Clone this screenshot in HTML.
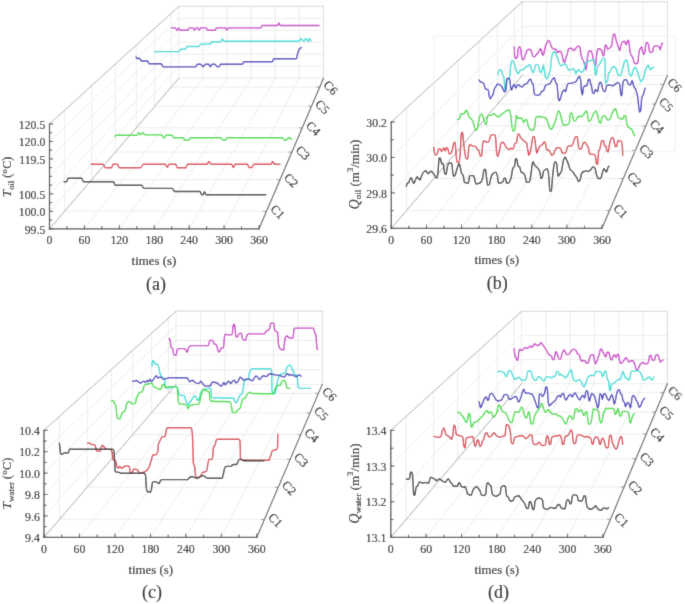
<!DOCTYPE html>
<html><head><meta charset="utf-8"><style>
html,body{margin:0;padding:0;background:#fff;}
svg{display:block;}
text{font-family:"Liberation Serif",serif;fill:#0a0a0a;stroke:#0a0a0a;stroke-width:0.12px;}
</style></head><body>
<svg width="685" height="604" viewBox="0 0 685 604">
<defs><filter id="bl" x="0" y="0" width="685" height="604" filterUnits="userSpaceOnUse"><feConvolveMatrix order="3" kernelMatrix="1 6 1 6 36 6 1 6 1" edgeMode="duplicate" preserveAlpha="true"/></filter></defs>
<rect width="685" height="604" fill="#fff"/>
<g filter="url(#bl)">
<rect width="685" height="604" fill="#fff"/>
<g stroke-linecap="square">
<line x1="178.9" y1="78.2" x2="178.9" y2="6.3" stroke="#e9e9e9" stroke-width="0.8"/>
<line x1="203" y1="78.2" x2="203" y2="6.3" stroke="#e9e9e9" stroke-width="0.8"/>
<line x1="227.1" y1="78.2" x2="227.1" y2="6.3" stroke="#e9e9e9" stroke-width="0.8"/>
<line x1="251.2" y1="78.2" x2="251.2" y2="6.3" stroke="#e9e9e9" stroke-width="0.8"/>
<line x1="275.3" y1="78.2" x2="275.3" y2="6.3" stroke="#e9e9e9" stroke-width="0.8"/>
<line x1="299.4" y1="78.2" x2="299.4" y2="6.3" stroke="#e9e9e9" stroke-width="0.8"/>
<line x1="323.5" y1="78.2" x2="323.5" y2="6.3" stroke="#e9e9e9" stroke-width="0.8"/>
<line x1="178.9" y1="78.2" x2="323.5" y2="78.2" stroke="#e9e9e9" stroke-width="0.8"/>
<line x1="178.9" y1="66.22" x2="323.5" y2="66.22" stroke="#e9e9e9" stroke-width="0.8"/>
<line x1="178.9" y1="54.23" x2="323.5" y2="54.23" stroke="#e9e9e9" stroke-width="0.8"/>
<line x1="178.9" y1="42.25" x2="323.5" y2="42.25" stroke="#e9e9e9" stroke-width="0.8"/>
<line x1="178.9" y1="30.27" x2="323.5" y2="30.27" stroke="#e9e9e9" stroke-width="0.8"/>
<line x1="178.9" y1="18.28" x2="323.5" y2="18.28" stroke="#e9e9e9" stroke-width="0.8"/>
<line x1="178.9" y1="6.3" x2="323.5" y2="6.3" stroke="#e9e9e9" stroke-width="0.8"/>
<line x1="49.5" y1="228.8" x2="178.9" y2="78.2" stroke="#e9e9e9" stroke-width="0.8"/>
<line x1="49.5" y1="211.33" x2="178.9" y2="66.22" stroke="#e9e9e9" stroke-width="0.8"/>
<line x1="49.5" y1="193.87" x2="178.9" y2="54.23" stroke="#e9e9e9" stroke-width="0.8"/>
<line x1="49.5" y1="176.4" x2="178.9" y2="42.25" stroke="#e9e9e9" stroke-width="0.8"/>
<line x1="49.5" y1="158.93" x2="178.9" y2="30.27" stroke="#e9e9e9" stroke-width="0.8"/>
<line x1="49.5" y1="141.47" x2="178.9" y2="18.28" stroke="#e9e9e9" stroke-width="0.8"/>
<line x1="49.5" y1="124" x2="178.9" y2="6.3" stroke="#e9e9e9" stroke-width="0.8"/>
<line x1="64.6" y1="211.23" x2="64.6" y2="110.27" stroke="#e9e9e9" stroke-width="0.8"/>
<line x1="91.73" y1="179.66" x2="91.73" y2="85.59" stroke="#e9e9e9" stroke-width="0.8"/>
<line x1="115.41" y1="152.1" x2="115.41" y2="64.05" stroke="#e9e9e9" stroke-width="0.8"/>
<line x1="136.26" y1="127.83" x2="136.26" y2="45.09" stroke="#e9e9e9" stroke-width="0.8"/>
<line x1="154.76" y1="106.3" x2="154.76" y2="28.26" stroke="#e9e9e9" stroke-width="0.8"/>
<line x1="171.28" y1="87.07" x2="171.28" y2="13.23" stroke="#e9e9e9" stroke-width="0.8"/>
<line x1="49.5" y1="228.8" x2="178.9" y2="78.2" stroke="#e9e9e9" stroke-width="0.8"/>
<line x1="84.42" y1="228.8" x2="203" y2="78.2" stroke="#e9e9e9" stroke-width="0.8"/>
<line x1="119.33" y1="228.8" x2="227.1" y2="78.2" stroke="#e9e9e9" stroke-width="0.8"/>
<line x1="154.25" y1="228.8" x2="251.2" y2="78.2" stroke="#e9e9e9" stroke-width="0.8"/>
<line x1="189.17" y1="228.8" x2="275.3" y2="78.2" stroke="#e9e9e9" stroke-width="0.8"/>
<line x1="224.08" y1="228.8" x2="299.4" y2="78.2" stroke="#e9e9e9" stroke-width="0.8"/>
<line x1="259" y1="228.8" x2="323.5" y2="78.2" stroke="#e9e9e9" stroke-width="0.8"/>
<line x1="64.6" y1="211.23" x2="266.53" y2="211.23" stroke="#e9e9e9" stroke-width="0.8"/>
<line x1="91.73" y1="179.66" x2="280.05" y2="179.66" stroke="#e9e9e9" stroke-width="0.8"/>
<line x1="115.41" y1="152.1" x2="291.85" y2="152.1" stroke="#e9e9e9" stroke-width="0.8"/>
<line x1="136.26" y1="127.83" x2="302.24" y2="127.83" stroke="#e9e9e9" stroke-width="0.8"/>
<line x1="154.76" y1="106.3" x2="311.47" y2="106.3" stroke="#e9e9e9" stroke-width="0.8"/>
<line x1="171.28" y1="87.07" x2="319.7" y2="87.07" stroke="#e9e9e9" stroke-width="0.8"/>
<line x1="178.9" y1="6.3" x2="323.5" y2="6.3" stroke="#dcdcdc" stroke-width="0.9"/>
<line x1="323.5" y1="6.3" x2="323.5" y2="78.2" stroke="#dcdcdc" stroke-width="0.9"/>
<line x1="49.5" y1="124" x2="178.9" y2="6.3" stroke="#acacac" stroke-width="0.9"/>
<line x1="49.5" y1="228.8" x2="178.9" y2="78.2" stroke="#acacac" stroke-width="0.9"/>
<line x1="49.5" y1="228.8" x2="49.5" y2="124" stroke="#4a4a4a" stroke-width="1.3"/>
<line x1="49.5" y1="228.8" x2="259" y2="228.8" stroke="#4a4a4a" stroke-width="1.3"/>
<line x1="259" y1="228.8" x2="323.5" y2="78.2" stroke="#5c5c5c" stroke-width="1.1"/>
<line x1="49.5" y1="228.8" x2="52.7" y2="228.8" stroke="#4a4a4a" stroke-width="1"/>
<line x1="49.5" y1="211.33" x2="52.7" y2="211.33" stroke="#4a4a4a" stroke-width="1"/>
<line x1="49.5" y1="193.87" x2="52.7" y2="193.87" stroke="#4a4a4a" stroke-width="1"/>
<line x1="49.5" y1="158.93" x2="52.7" y2="158.93" stroke="#4a4a4a" stroke-width="1"/>
<line x1="49.5" y1="141.47" x2="52.7" y2="141.47" stroke="#4a4a4a" stroke-width="1"/>
<line x1="49.5" y1="124" x2="52.7" y2="124" stroke="#4a4a4a" stroke-width="1"/>
<line x1="49.5" y1="220.07" x2="51.7" y2="220.07" stroke="#4a4a4a" stroke-width="1"/>
<line x1="49.5" y1="202.6" x2="51.7" y2="202.6" stroke="#4a4a4a" stroke-width="1"/>
<line x1="49.5" y1="185.13" x2="51.7" y2="185.13" stroke="#4a4a4a" stroke-width="1"/>
<line x1="49.5" y1="176.4" x2="51.7" y2="176.4" stroke="#4a4a4a" stroke-width="1"/>
<line x1="49.5" y1="167.67" x2="51.7" y2="167.67" stroke="#4a4a4a" stroke-width="1"/>
<line x1="49.5" y1="150.2" x2="51.7" y2="150.2" stroke="#4a4a4a" stroke-width="1"/>
<line x1="49.5" y1="132.73" x2="51.7" y2="132.73" stroke="#4a4a4a" stroke-width="1"/>
<line x1="49.5" y1="228.8" x2="49.5" y2="225.6" stroke="#4a4a4a" stroke-width="1"/>
<line x1="66.96" y1="228.8" x2="66.96" y2="226.6" stroke="#4a4a4a" stroke-width="1"/>
<line x1="84.42" y1="228.8" x2="84.42" y2="225.6" stroke="#4a4a4a" stroke-width="1"/>
<line x1="101.88" y1="228.8" x2="101.88" y2="226.6" stroke="#4a4a4a" stroke-width="1"/>
<line x1="119.33" y1="228.8" x2="119.33" y2="225.6" stroke="#4a4a4a" stroke-width="1"/>
<line x1="136.79" y1="228.8" x2="136.79" y2="226.6" stroke="#4a4a4a" stroke-width="1"/>
<line x1="154.25" y1="228.8" x2="154.25" y2="225.6" stroke="#4a4a4a" stroke-width="1"/>
<line x1="171.71" y1="228.8" x2="171.71" y2="226.6" stroke="#4a4a4a" stroke-width="1"/>
<line x1="189.17" y1="228.8" x2="189.17" y2="225.6" stroke="#4a4a4a" stroke-width="1"/>
<line x1="206.62" y1="228.8" x2="206.62" y2="226.6" stroke="#4a4a4a" stroke-width="1"/>
<line x1="224.08" y1="228.8" x2="224.08" y2="225.6" stroke="#4a4a4a" stroke-width="1"/>
<line x1="241.54" y1="228.8" x2="241.54" y2="226.6" stroke="#4a4a4a" stroke-width="1"/>
<line x1="259" y1="228.8" x2="259" y2="225.6" stroke="#4a4a4a" stroke-width="1"/>
<line x1="266.53" y1="211.23" x2="263.73" y2="211.23" stroke="#8a8a8a" stroke-width="0.9"/>
<line x1="280.05" y1="179.66" x2="277.25" y2="179.66" stroke="#8a8a8a" stroke-width="0.9"/>
<line x1="291.85" y1="152.1" x2="289.05" y2="152.1" stroke="#8a8a8a" stroke-width="0.9"/>
<line x1="302.24" y1="127.83" x2="299.44" y2="127.83" stroke="#8a8a8a" stroke-width="0.9"/>
<line x1="311.47" y1="106.3" x2="308.67" y2="106.3" stroke="#8a8a8a" stroke-width="0.9"/>
<line x1="319.7" y1="87.07" x2="316.9" y2="87.07" stroke="#8a8a8a" stroke-width="0.9"/>
<line x1="522.2" y1="75.4" x2="522.2" y2="1.75" stroke="#e9e9e9" stroke-width="0.8"/>
<line x1="546.42" y1="75.4" x2="546.42" y2="1.75" stroke="#e9e9e9" stroke-width="0.8"/>
<line x1="570.63" y1="75.4" x2="570.63" y2="1.75" stroke="#e9e9e9" stroke-width="0.8"/>
<line x1="594.85" y1="75.4" x2="594.85" y2="1.75" stroke="#e9e9e9" stroke-width="0.8"/>
<line x1="619.07" y1="75.4" x2="619.07" y2="1.75" stroke="#e9e9e9" stroke-width="0.8"/>
<line x1="643.28" y1="75.4" x2="643.28" y2="1.75" stroke="#e9e9e9" stroke-width="0.8"/>
<line x1="667.5" y1="75.4" x2="667.5" y2="1.75" stroke="#e9e9e9" stroke-width="0.8"/>
<line x1="522.2" y1="75.4" x2="667.5" y2="75.4" stroke="#e9e9e9" stroke-width="0.8"/>
<line x1="522.2" y1="50.85" x2="667.5" y2="50.85" stroke="#e9e9e9" stroke-width="0.8"/>
<line x1="522.2" y1="26.3" x2="667.5" y2="26.3" stroke="#e9e9e9" stroke-width="0.8"/>
<line x1="522.2" y1="1.75" x2="667.5" y2="1.75" stroke="#e9e9e9" stroke-width="0.8"/>
<line x1="391.3" y1="228.3" x2="522.2" y2="75.4" stroke="#e9e9e9" stroke-width="0.8"/>
<line x1="391.3" y1="192.87" x2="522.2" y2="50.85" stroke="#e9e9e9" stroke-width="0.8"/>
<line x1="391.3" y1="157.43" x2="522.2" y2="26.3" stroke="#e9e9e9" stroke-width="0.8"/>
<line x1="391.3" y1="122" x2="522.2" y2="1.75" stroke="#e9e9e9" stroke-width="0.8"/>
<line x1="406.51" y1="210.53" x2="406.51" y2="108.02" stroke="#e9e9e9" stroke-width="0.8"/>
<line x1="433.89" y1="178.56" x2="433.89" y2="82.88" stroke="#e9e9e9" stroke-width="0.8"/>
<line x1="457.82" y1="150.6" x2="457.82" y2="60.89" stroke="#e9e9e9" stroke-width="0.8"/>
<line x1="478.93" y1="125.94" x2="478.93" y2="41.5" stroke="#e9e9e9" stroke-width="0.8"/>
<line x1="497.69" y1="104.03" x2="497.69" y2="24.27" stroke="#e9e9e9" stroke-width="0.8"/>
<line x1="514.46" y1="84.44" x2="514.46" y2="8.86" stroke="#e9e9e9" stroke-width="0.8"/>
<line x1="391.3" y1="228.3" x2="522.2" y2="75.4" stroke="#e9e9e9" stroke-width="0.8"/>
<line x1="426.42" y1="228.3" x2="546.42" y2="75.4" stroke="#e9e9e9" stroke-width="0.8"/>
<line x1="461.53" y1="228.3" x2="570.63" y2="75.4" stroke="#e9e9e9" stroke-width="0.8"/>
<line x1="496.65" y1="228.3" x2="594.85" y2="75.4" stroke="#e9e9e9" stroke-width="0.8"/>
<line x1="531.77" y1="228.3" x2="619.07" y2="75.4" stroke="#e9e9e9" stroke-width="0.8"/>
<line x1="566.88" y1="228.3" x2="643.28" y2="75.4" stroke="#e9e9e9" stroke-width="0.8"/>
<line x1="602" y1="228.3" x2="667.5" y2="75.4" stroke="#e9e9e9" stroke-width="0.8"/>
<line x1="406.51" y1="210.53" x2="609.61" y2="210.53" stroke="#e9e9e9" stroke-width="0.8"/>
<line x1="433.89" y1="178.56" x2="623.31" y2="178.56" stroke="#e9e9e9" stroke-width="0.8"/>
<line x1="457.82" y1="150.6" x2="635.29" y2="150.6" stroke="#e9e9e9" stroke-width="0.8"/>
<line x1="478.93" y1="125.94" x2="645.85" y2="125.94" stroke="#e9e9e9" stroke-width="0.8"/>
<line x1="497.69" y1="104.03" x2="655.23" y2="104.03" stroke="#e9e9e9" stroke-width="0.8"/>
<line x1="514.46" y1="84.44" x2="663.63" y2="84.44" stroke="#e9e9e9" stroke-width="0.8"/>
<line x1="522.2" y1="1.75" x2="667.5" y2="1.75" stroke="#dcdcdc" stroke-width="0.9"/>
<line x1="667.5" y1="1.75" x2="667.5" y2="75.4" stroke="#dcdcdc" stroke-width="0.9"/>
<line x1="391.3" y1="122" x2="522.2" y2="1.75" stroke="#acacac" stroke-width="0.9"/>
<line x1="391.3" y1="228.3" x2="522.2" y2="75.4" stroke="#acacac" stroke-width="0.9"/>
<line x1="391.3" y1="228.3" x2="391.3" y2="122" stroke="#4a4a4a" stroke-width="1.3"/>
<line x1="391.3" y1="228.3" x2="602" y2="228.3" stroke="#4a4a4a" stroke-width="1.3"/>
<line x1="602" y1="228.3" x2="667.5" y2="75.4" stroke="#5c5c5c" stroke-width="1.1"/>
<line x1="391.3" y1="228.3" x2="394.5" y2="228.3" stroke="#4a4a4a" stroke-width="1"/>
<line x1="391.3" y1="192.87" x2="394.5" y2="192.87" stroke="#4a4a4a" stroke-width="1"/>
<line x1="391.3" y1="157.43" x2="394.5" y2="157.43" stroke="#4a4a4a" stroke-width="1"/>
<line x1="391.3" y1="122" x2="394.5" y2="122" stroke="#4a4a4a" stroke-width="1"/>
<line x1="391.3" y1="210.58" x2="393.5" y2="210.58" stroke="#4a4a4a" stroke-width="1"/>
<line x1="391.3" y1="175.15" x2="393.5" y2="175.15" stroke="#4a4a4a" stroke-width="1"/>
<line x1="391.3" y1="139.72" x2="393.5" y2="139.72" stroke="#4a4a4a" stroke-width="1"/>
<line x1="391.3" y1="228.3" x2="391.3" y2="225.1" stroke="#4a4a4a" stroke-width="1"/>
<line x1="408.86" y1="228.3" x2="408.86" y2="226.1" stroke="#4a4a4a" stroke-width="1"/>
<line x1="426.42" y1="228.3" x2="426.42" y2="225.1" stroke="#4a4a4a" stroke-width="1"/>
<line x1="443.98" y1="228.3" x2="443.98" y2="226.1" stroke="#4a4a4a" stroke-width="1"/>
<line x1="461.53" y1="228.3" x2="461.53" y2="225.1" stroke="#4a4a4a" stroke-width="1"/>
<line x1="479.09" y1="228.3" x2="479.09" y2="226.1" stroke="#4a4a4a" stroke-width="1"/>
<line x1="496.65" y1="228.3" x2="496.65" y2="225.1" stroke="#4a4a4a" stroke-width="1"/>
<line x1="514.21" y1="228.3" x2="514.21" y2="226.1" stroke="#4a4a4a" stroke-width="1"/>
<line x1="531.77" y1="228.3" x2="531.77" y2="225.1" stroke="#4a4a4a" stroke-width="1"/>
<line x1="549.33" y1="228.3" x2="549.33" y2="226.1" stroke="#4a4a4a" stroke-width="1"/>
<line x1="566.88" y1="228.3" x2="566.88" y2="225.1" stroke="#4a4a4a" stroke-width="1"/>
<line x1="584.44" y1="228.3" x2="584.44" y2="226.1" stroke="#4a4a4a" stroke-width="1"/>
<line x1="602" y1="228.3" x2="602" y2="225.1" stroke="#4a4a4a" stroke-width="1"/>
<line x1="609.61" y1="210.53" x2="606.81" y2="210.53" stroke="#8a8a8a" stroke-width="0.9"/>
<line x1="623.31" y1="178.56" x2="620.51" y2="178.56" stroke="#8a8a8a" stroke-width="0.9"/>
<line x1="635.29" y1="150.6" x2="632.49" y2="150.6" stroke="#8a8a8a" stroke-width="0.9"/>
<line x1="645.85" y1="125.94" x2="643.05" y2="125.94" stroke="#8a8a8a" stroke-width="0.9"/>
<line x1="655.23" y1="104.03" x2="652.43" y2="104.03" stroke="#8a8a8a" stroke-width="0.9"/>
<line x1="663.63" y1="84.44" x2="660.83" y2="84.44" stroke="#8a8a8a" stroke-width="0.9"/>
<polyline points="433.9,178 433.9,36.1 675.3,36.1 675.3,151.6 612,151.6" fill="none" stroke="#ececec" stroke-width="0.8"/>
<line x1="176.1" y1="384.4" x2="176.1" y2="311.2" stroke="#e9e9e9" stroke-width="0.8"/>
<line x1="200.47" y1="384.4" x2="200.47" y2="311.2" stroke="#e9e9e9" stroke-width="0.8"/>
<line x1="224.83" y1="384.4" x2="224.83" y2="311.2" stroke="#e9e9e9" stroke-width="0.8"/>
<line x1="249.2" y1="384.4" x2="249.2" y2="311.2" stroke="#e9e9e9" stroke-width="0.8"/>
<line x1="273.57" y1="384.4" x2="273.57" y2="311.2" stroke="#e9e9e9" stroke-width="0.8"/>
<line x1="297.93" y1="384.4" x2="297.93" y2="311.2" stroke="#e9e9e9" stroke-width="0.8"/>
<line x1="322.3" y1="384.4" x2="322.3" y2="311.2" stroke="#e9e9e9" stroke-width="0.8"/>
<line x1="176.1" y1="384.4" x2="322.3" y2="384.4" stroke="#e9e9e9" stroke-width="0.8"/>
<line x1="176.1" y1="369.76" x2="322.3" y2="369.76" stroke="#e9e9e9" stroke-width="0.8"/>
<line x1="176.1" y1="355.12" x2="322.3" y2="355.12" stroke="#e9e9e9" stroke-width="0.8"/>
<line x1="176.1" y1="340.48" x2="322.3" y2="340.48" stroke="#e9e9e9" stroke-width="0.8"/>
<line x1="176.1" y1="325.84" x2="322.3" y2="325.84" stroke="#e9e9e9" stroke-width="0.8"/>
<line x1="176.1" y1="311.2" x2="322.3" y2="311.2" stroke="#e9e9e9" stroke-width="0.8"/>
<line x1="44" y1="537.3" x2="176.1" y2="384.4" stroke="#e9e9e9" stroke-width="0.8"/>
<line x1="44" y1="515.9" x2="176.1" y2="369.76" stroke="#e9e9e9" stroke-width="0.8"/>
<line x1="44" y1="494.5" x2="176.1" y2="355.12" stroke="#e9e9e9" stroke-width="0.8"/>
<line x1="44" y1="473.1" x2="176.1" y2="340.48" stroke="#e9e9e9" stroke-width="0.8"/>
<line x1="44" y1="451.7" x2="176.1" y2="325.84" stroke="#e9e9e9" stroke-width="0.8"/>
<line x1="44" y1="430.3" x2="176.1" y2="311.2" stroke="#e9e9e9" stroke-width="0.8"/>
<line x1="59.47" y1="519.4" x2="59.47" y2="416.36" stroke="#e9e9e9" stroke-width="0.8"/>
<line x1="87.22" y1="487.28" x2="87.22" y2="391.34" stroke="#e9e9e9" stroke-width="0.8"/>
<line x1="111.4" y1="459.28" x2="111.4" y2="369.53" stroke="#e9e9e9" stroke-width="0.8"/>
<line x1="132.68" y1="434.66" x2="132.68" y2="350.35" stroke="#e9e9e9" stroke-width="0.8"/>
<line x1="151.53" y1="412.84" x2="151.53" y2="333.35" stroke="#e9e9e9" stroke-width="0.8"/>
<line x1="168.35" y1="393.37" x2="168.35" y2="318.19" stroke="#e9e9e9" stroke-width="0.8"/>
<line x1="44" y1="537.3" x2="176.1" y2="384.4" stroke="#e9e9e9" stroke-width="0.8"/>
<line x1="79.47" y1="537.3" x2="200.47" y2="384.4" stroke="#e9e9e9" stroke-width="0.8"/>
<line x1="114.93" y1="537.3" x2="224.83" y2="384.4" stroke="#e9e9e9" stroke-width="0.8"/>
<line x1="150.4" y1="537.3" x2="249.2" y2="384.4" stroke="#e9e9e9" stroke-width="0.8"/>
<line x1="185.87" y1="537.3" x2="273.57" y2="384.4" stroke="#e9e9e9" stroke-width="0.8"/>
<line x1="221.33" y1="537.3" x2="297.93" y2="384.4" stroke="#e9e9e9" stroke-width="0.8"/>
<line x1="256.8" y1="537.3" x2="322.3" y2="384.4" stroke="#e9e9e9" stroke-width="0.8"/>
<line x1="59.47" y1="519.4" x2="264.47" y2="519.4" stroke="#e9e9e9" stroke-width="0.8"/>
<line x1="87.22" y1="487.28" x2="278.23" y2="487.28" stroke="#e9e9e9" stroke-width="0.8"/>
<line x1="111.4" y1="459.28" x2="290.22" y2="459.28" stroke="#e9e9e9" stroke-width="0.8"/>
<line x1="132.68" y1="434.66" x2="300.77" y2="434.66" stroke="#e9e9e9" stroke-width="0.8"/>
<line x1="151.53" y1="412.84" x2="310.12" y2="412.84" stroke="#e9e9e9" stroke-width="0.8"/>
<line x1="168.35" y1="393.37" x2="318.46" y2="393.37" stroke="#e9e9e9" stroke-width="0.8"/>
<line x1="176.1" y1="311.2" x2="322.3" y2="311.2" stroke="#dcdcdc" stroke-width="0.9"/>
<line x1="322.3" y1="311.2" x2="322.3" y2="384.4" stroke="#dcdcdc" stroke-width="0.9"/>
<line x1="44" y1="430.3" x2="176.1" y2="311.2" stroke="#acacac" stroke-width="0.9"/>
<line x1="44" y1="537.3" x2="176.1" y2="384.4" stroke="#acacac" stroke-width="0.9"/>
<line x1="44" y1="537.3" x2="44" y2="430.3" stroke="#4a4a4a" stroke-width="1.3"/>
<line x1="44" y1="537.3" x2="256.8" y2="537.3" stroke="#4a4a4a" stroke-width="1.3"/>
<line x1="256.8" y1="537.3" x2="322.3" y2="384.4" stroke="#5c5c5c" stroke-width="1.1"/>
<line x1="44" y1="537.3" x2="47.2" y2="537.3" stroke="#4a4a4a" stroke-width="1"/>
<line x1="44" y1="515.9" x2="47.2" y2="515.9" stroke="#4a4a4a" stroke-width="1"/>
<line x1="44" y1="494.5" x2="47.2" y2="494.5" stroke="#4a4a4a" stroke-width="1"/>
<line x1="44" y1="473.1" x2="47.2" y2="473.1" stroke="#4a4a4a" stroke-width="1"/>
<line x1="44" y1="451.7" x2="47.2" y2="451.7" stroke="#4a4a4a" stroke-width="1"/>
<line x1="44" y1="430.3" x2="47.2" y2="430.3" stroke="#4a4a4a" stroke-width="1"/>
<line x1="44" y1="526.6" x2="46.2" y2="526.6" stroke="#4a4a4a" stroke-width="1"/>
<line x1="44" y1="505.2" x2="46.2" y2="505.2" stroke="#4a4a4a" stroke-width="1"/>
<line x1="44" y1="483.8" x2="46.2" y2="483.8" stroke="#4a4a4a" stroke-width="1"/>
<line x1="44" y1="462.4" x2="46.2" y2="462.4" stroke="#4a4a4a" stroke-width="1"/>
<line x1="44" y1="441" x2="46.2" y2="441" stroke="#4a4a4a" stroke-width="1"/>
<line x1="44" y1="537.3" x2="44" y2="534.1" stroke="#4a4a4a" stroke-width="1"/>
<line x1="61.73" y1="537.3" x2="61.73" y2="535.1" stroke="#4a4a4a" stroke-width="1"/>
<line x1="79.47" y1="537.3" x2="79.47" y2="534.1" stroke="#4a4a4a" stroke-width="1"/>
<line x1="97.2" y1="537.3" x2="97.2" y2="535.1" stroke="#4a4a4a" stroke-width="1"/>
<line x1="114.93" y1="537.3" x2="114.93" y2="534.1" stroke="#4a4a4a" stroke-width="1"/>
<line x1="132.67" y1="537.3" x2="132.67" y2="535.1" stroke="#4a4a4a" stroke-width="1"/>
<line x1="150.4" y1="537.3" x2="150.4" y2="534.1" stroke="#4a4a4a" stroke-width="1"/>
<line x1="168.13" y1="537.3" x2="168.13" y2="535.1" stroke="#4a4a4a" stroke-width="1"/>
<line x1="185.87" y1="537.3" x2="185.87" y2="534.1" stroke="#4a4a4a" stroke-width="1"/>
<line x1="203.6" y1="537.3" x2="203.6" y2="535.1" stroke="#4a4a4a" stroke-width="1"/>
<line x1="221.33" y1="537.3" x2="221.33" y2="534.1" stroke="#4a4a4a" stroke-width="1"/>
<line x1="239.07" y1="537.3" x2="239.07" y2="535.1" stroke="#4a4a4a" stroke-width="1"/>
<line x1="256.8" y1="537.3" x2="256.8" y2="534.1" stroke="#4a4a4a" stroke-width="1"/>
<line x1="264.47" y1="519.4" x2="261.67" y2="519.4" stroke="#8a8a8a" stroke-width="0.9"/>
<line x1="278.23" y1="487.28" x2="275.43" y2="487.28" stroke="#8a8a8a" stroke-width="0.9"/>
<line x1="290.22" y1="459.28" x2="287.42" y2="459.28" stroke="#8a8a8a" stroke-width="0.9"/>
<line x1="300.77" y1="434.66" x2="297.97" y2="434.66" stroke="#8a8a8a" stroke-width="0.9"/>
<line x1="310.12" y1="412.84" x2="307.32" y2="412.84" stroke="#8a8a8a" stroke-width="0.9"/>
<line x1="318.46" y1="393.37" x2="315.66" y2="393.37" stroke="#8a8a8a" stroke-width="0.9"/>
<line x1="521.6" y1="383.7" x2="521.6" y2="311.3" stroke="#e9e9e9" stroke-width="0.8"/>
<line x1="545.9" y1="383.7" x2="545.9" y2="311.3" stroke="#e9e9e9" stroke-width="0.8"/>
<line x1="570.2" y1="383.7" x2="570.2" y2="311.3" stroke="#e9e9e9" stroke-width="0.8"/>
<line x1="594.5" y1="383.7" x2="594.5" y2="311.3" stroke="#e9e9e9" stroke-width="0.8"/>
<line x1="618.8" y1="383.7" x2="618.8" y2="311.3" stroke="#e9e9e9" stroke-width="0.8"/>
<line x1="643.1" y1="383.7" x2="643.1" y2="311.3" stroke="#e9e9e9" stroke-width="0.8"/>
<line x1="667.4" y1="383.7" x2="667.4" y2="311.3" stroke="#e9e9e9" stroke-width="0.8"/>
<line x1="521.6" y1="383.7" x2="667.4" y2="383.7" stroke="#e9e9e9" stroke-width="0.8"/>
<line x1="521.6" y1="359.57" x2="667.4" y2="359.57" stroke="#e9e9e9" stroke-width="0.8"/>
<line x1="521.6" y1="335.43" x2="667.4" y2="335.43" stroke="#e9e9e9" stroke-width="0.8"/>
<line x1="521.6" y1="311.3" x2="667.4" y2="311.3" stroke="#e9e9e9" stroke-width="0.8"/>
<line x1="390.8" y1="537.4" x2="521.6" y2="383.7" stroke="#e9e9e9" stroke-width="0.8"/>
<line x1="390.8" y1="501.73" x2="521.6" y2="359.57" stroke="#e9e9e9" stroke-width="0.8"/>
<line x1="390.8" y1="466.07" x2="521.6" y2="335.43" stroke="#e9e9e9" stroke-width="0.8"/>
<line x1="390.8" y1="430.4" x2="521.6" y2="311.3" stroke="#e9e9e9" stroke-width="0.8"/>
<line x1="406.18" y1="519.32" x2="406.18" y2="416.39" stroke="#e9e9e9" stroke-width="0.8"/>
<line x1="433.74" y1="486.94" x2="433.74" y2="391.3" stroke="#e9e9e9" stroke-width="0.8"/>
<line x1="457.71" y1="458.77" x2="457.71" y2="369.47" stroke="#e9e9e9" stroke-width="0.8"/>
<line x1="478.75" y1="434.05" x2="478.75" y2="350.31" stroke="#e9e9e9" stroke-width="0.8"/>
<line x1="497.37" y1="412.17" x2="497.37" y2="333.36" stroke="#e9e9e9" stroke-width="0.8"/>
<line x1="513.96" y1="392.67" x2="513.96" y2="318.25" stroke="#e9e9e9" stroke-width="0.8"/>
<line x1="390.8" y1="537.4" x2="521.6" y2="383.7" stroke="#e9e9e9" stroke-width="0.8"/>
<line x1="426.15" y1="537.4" x2="545.9" y2="383.7" stroke="#e9e9e9" stroke-width="0.8"/>
<line x1="461.5" y1="537.4" x2="570.2" y2="383.7" stroke="#e9e9e9" stroke-width="0.8"/>
<line x1="496.85" y1="537.4" x2="594.5" y2="383.7" stroke="#e9e9e9" stroke-width="0.8"/>
<line x1="532.2" y1="537.4" x2="618.8" y2="383.7" stroke="#e9e9e9" stroke-width="0.8"/>
<line x1="567.55" y1="537.4" x2="643.1" y2="383.7" stroke="#e9e9e9" stroke-width="0.8"/>
<line x1="602.9" y1="537.4" x2="667.4" y2="383.7" stroke="#e9e9e9" stroke-width="0.8"/>
<line x1="406.18" y1="519.32" x2="610.49" y2="519.32" stroke="#e9e9e9" stroke-width="0.8"/>
<line x1="433.74" y1="486.94" x2="624.07" y2="486.94" stroke="#e9e9e9" stroke-width="0.8"/>
<line x1="457.71" y1="458.77" x2="635.9" y2="458.77" stroke="#e9e9e9" stroke-width="0.8"/>
<line x1="478.75" y1="434.05" x2="646.27" y2="434.05" stroke="#e9e9e9" stroke-width="0.8"/>
<line x1="497.37" y1="412.17" x2="655.45" y2="412.17" stroke="#e9e9e9" stroke-width="0.8"/>
<line x1="513.96" y1="392.67" x2="663.63" y2="392.67" stroke="#e9e9e9" stroke-width="0.8"/>
<line x1="521.6" y1="311.3" x2="667.4" y2="311.3" stroke="#dcdcdc" stroke-width="0.9"/>
<line x1="667.4" y1="311.3" x2="667.4" y2="383.7" stroke="#dcdcdc" stroke-width="0.9"/>
<line x1="390.8" y1="430.4" x2="521.6" y2="311.3" stroke="#acacac" stroke-width="0.9"/>
<line x1="390.8" y1="537.4" x2="521.6" y2="383.7" stroke="#acacac" stroke-width="0.9"/>
<line x1="390.8" y1="537.4" x2="390.8" y2="430.4" stroke="#4a4a4a" stroke-width="1.3"/>
<line x1="390.8" y1="537.4" x2="602.9" y2="537.4" stroke="#4a4a4a" stroke-width="1.3"/>
<line x1="602.9" y1="537.4" x2="667.4" y2="383.7" stroke="#5c5c5c" stroke-width="1.1"/>
<line x1="390.8" y1="537.4" x2="394" y2="537.4" stroke="#4a4a4a" stroke-width="1"/>
<line x1="390.8" y1="501.73" x2="394" y2="501.73" stroke="#4a4a4a" stroke-width="1"/>
<line x1="390.8" y1="466.07" x2="394" y2="466.07" stroke="#4a4a4a" stroke-width="1"/>
<line x1="390.8" y1="430.4" x2="394" y2="430.4" stroke="#4a4a4a" stroke-width="1"/>
<line x1="390.8" y1="519.57" x2="393" y2="519.57" stroke="#4a4a4a" stroke-width="1"/>
<line x1="390.8" y1="483.9" x2="393" y2="483.9" stroke="#4a4a4a" stroke-width="1"/>
<line x1="390.8" y1="448.23" x2="393" y2="448.23" stroke="#4a4a4a" stroke-width="1"/>
<line x1="390.8" y1="537.4" x2="390.8" y2="534.2" stroke="#4a4a4a" stroke-width="1"/>
<line x1="408.48" y1="537.4" x2="408.48" y2="535.2" stroke="#4a4a4a" stroke-width="1"/>
<line x1="426.15" y1="537.4" x2="426.15" y2="534.2" stroke="#4a4a4a" stroke-width="1"/>
<line x1="443.82" y1="537.4" x2="443.82" y2="535.2" stroke="#4a4a4a" stroke-width="1"/>
<line x1="461.5" y1="537.4" x2="461.5" y2="534.2" stroke="#4a4a4a" stroke-width="1"/>
<line x1="479.18" y1="537.4" x2="479.18" y2="535.2" stroke="#4a4a4a" stroke-width="1"/>
<line x1="496.85" y1="537.4" x2="496.85" y2="534.2" stroke="#4a4a4a" stroke-width="1"/>
<line x1="514.52" y1="537.4" x2="514.52" y2="535.2" stroke="#4a4a4a" stroke-width="1"/>
<line x1="532.2" y1="537.4" x2="532.2" y2="534.2" stroke="#4a4a4a" stroke-width="1"/>
<line x1="549.88" y1="537.4" x2="549.88" y2="535.2" stroke="#4a4a4a" stroke-width="1"/>
<line x1="567.55" y1="537.4" x2="567.55" y2="534.2" stroke="#4a4a4a" stroke-width="1"/>
<line x1="585.22" y1="537.4" x2="585.22" y2="535.2" stroke="#4a4a4a" stroke-width="1"/>
<line x1="602.9" y1="537.4" x2="602.9" y2="534.2" stroke="#4a4a4a" stroke-width="1"/>
<line x1="610.49" y1="519.32" x2="607.69" y2="519.32" stroke="#8a8a8a" stroke-width="0.9"/>
<line x1="624.07" y1="486.94" x2="621.27" y2="486.94" stroke="#8a8a8a" stroke-width="0.9"/>
<line x1="635.9" y1="458.77" x2="633.1" y2="458.77" stroke="#8a8a8a" stroke-width="0.9"/>
<line x1="646.27" y1="434.05" x2="643.47" y2="434.05" stroke="#8a8a8a" stroke-width="0.9"/>
<line x1="655.45" y1="412.17" x2="652.65" y2="412.17" stroke="#8a8a8a" stroke-width="0.9"/>
<line x1="663.63" y1="392.67" x2="660.83" y2="392.67" stroke="#8a8a8a" stroke-width="0.9"/>
</g>
<g fill="none" stroke-width="1.4" stroke-linejoin="round" stroke-linecap="round">
<path d="M171.6 27.9C172.8 27.9 174 27.9 175.2 27.9C175.83 27.9 176.47 30.3 177.1 30.3C177.67 30.3 178.23 28.2 178.8 28.2C179.3 28.2 179.8 30.3 180.3 30.3C182.7 30.3 185.1 30.3 187.5 30.3C188.1 30.3 188.7 27.9 189.3 27.9C190.57 27.9 191.83 27.9 193.1 27.9C193.6 27.9 194.1 30.1 194.6 30.1C195.13 30.1 195.67 27.9 196.2 27.9C196.7 27.9 197.2 27.9 197.7 27.9C198.2 27.9 198.7 30.1 199.2 30.1C199.73 30.1 200.27 27.9 200.8 27.9C202.67 27.9 204.53 27.9 206.4 27.9C206.8 27.9 207.2 30.3 207.6 30.3C210.1 30.3 212.6 30.3 215.1 30.3C215.5 30.3 215.9 27.9 216.3 27.9C219.3 27.9 222.3 27.9 225.3 27.9C225.8 27.9 226.3 30 226.8 30C227.33 30 227.87 27.9 228.4 27.9C239.17 27.9 249.93 27.9 260.7 27.9C261.17 27.9 261.63 25.5 262.1 25.5C267.2 25.5 272.3 25.5 277.4 25.5C277.9 25.5 278.4 23 278.9 23C279.4 23 279.9 25.5 280.4 25.5C293.27 25.5 306.13 25.5 319 25.5" stroke="#c83cc8"/>
<path d="M154.4 51.6C162.6 51.6 170.8 51.6 179 51.6C179.53 51.6 180.07 49.2 180.6 49.2C182.2 49.2 183.8 49.2 185.4 49.2C185.93 49.2 186.47 46.5 187 46.5C191 46.5 195 46.5 199 46.5C199.57 46.5 200.13 44.1 200.7 44.1C203.9 44.1 207.1 44.1 210.3 44.1C210.83 44.1 211.37 41.7 211.9 41.7C214.83 41.7 217.77 41.7 220.7 41.7C221.23 41.7 221.77 39 222.3 39C222.87 39 223.43 41.2 224 41.2C249.1 41.2 274.2 41.2 299.3 41.2C299.8 41.2 300.3 38.4 300.8 38.4C301.77 38.4 302.73 41.2 303.7 41.2C304.43 41.2 305.17 38.4 305.9 38.4C306.63 38.4 307.37 41.2 308.1 41.2C308.6 41.2 309.1 38.4 309.6 38.4C310.07 38.4 310.53 40.27 311 41.2" stroke="#34dcd6"/>
<path d="M136.1 56.9C136.47 57.43 136.83 58.5 137.2 58.5C138.1 58.5 139 58.5 139.9 58.5C140.33 58.5 140.77 61 141.2 61C143.37 61 145.53 61 147.7 61C148.13 61 148.57 63.7 149 63.7C153.1 63.7 157.2 63.7 161.3 63.7C161.83 63.7 162.37 66.9 162.9 66.9C173.87 66.9 184.83 66.9 195.8 66.9C196.33 66.9 196.87 64.2 197.4 64.2C198.5 64.2 199.6 64.2 200.7 64.2C201.47 64.2 202.23 66.7 203 66.7C203.83 66.7 204.67 64.2 205.5 64.2C206.57 64.2 207.63 64.2 208.7 64.2C209.23 64.2 209.77 66.7 210.3 66.7C210.87 66.7 211.43 64.2 212 64.2C213 64.2 214 64.2 215 64.2C215.83 64.2 216.67 66.9 217.5 66.9C218 66.9 218.5 66.9 219 66.9C219.57 66.9 220.13 64.2 220.7 64.2C227.93 64.2 235.17 64.3 242.4 64.3C242.9 64.3 243.4 61.7 243.9 61.7C253.37 61.7 262.83 61.7 272.3 61.7C272.8 61.7 273.3 58.8 273.8 58.8C281.33 58.8 288.87 58.8 296.4 58.8C296.73 58.8 297.07 55.48 297.4 54.4C298.2 51.8 299 49.45 299.8 48.6C300.37 48 300.93 47.8 301.5 47.4" stroke="#4840bc"/>
<path d="M115.1 136.4C115.33 136 115.57 135.2 115.8 135.2C122.87 135.2 129.93 135.2 137 135.2C137.5 135.2 138 132.6 138.5 132.6C139.23 132.6 139.97 134.9 140.7 134.9C141.4 134.9 142.1 132.6 142.8 132.6C143.53 132.6 144.27 134.9 145 134.9C150.6 134.9 156.2 134.9 161.8 134.9C162.3 134.9 162.8 137.8 163.3 137.8C163.63 137.8 163.97 137.8 164.3 137.8C164.93 137.8 165.57 135.2 166.2 135.2C168.13 135.2 170.07 135.2 172 135.2C172.5 135.2 173 137.8 173.5 137.8C176.67 137.8 179.83 137.8 183 137.8C183.73 137.8 184.47 140.3 185.2 140.3C186.4 140.3 187.6 140.3 188.8 140.3C189.3 140.3 189.8 137.8 190.3 137.8C200.6 137.8 210.9 137.8 221.2 137.8C221.8 137.8 222.4 140.2 223 140.2C223.83 140.2 224.67 140.2 225.5 140.2C226 140.2 226.5 137.8 227 137.8C245.5 137.8 264 137.8 282.5 137.8C283.17 137.8 283.83 140.2 284.5 140.2C285.17 140.2 285.83 140.2 286.5 140.2C287.1 140.2 287.7 137.8 288.3 137.8C288.87 137.8 289.43 137.87 290 138C290.4 138.09 290.8 139 291.2 139.5" stroke="#40dc40"/>
<path d="M91.1 164.3C95.03 164.3 98.97 164.3 102.9 164.3C103.73 164.3 104.57 167.8 105.4 167.8C107.43 167.8 109.47 167.8 111.5 167.8C112.03 167.8 112.57 164.3 113.1 164.3C114.47 164.3 115.83 164.3 117.2 164.3C117.9 164.3 118.6 167.8 119.3 167.8C126.43 167.8 133.57 167.8 140.7 167.8C141.6 167.8 142.5 164.3 143.4 164.3C150.7 164.3 158 164.3 165.3 164.3C165.97 164.3 166.63 167.3 167.3 167.3C167.97 167.3 168.63 164.3 169.3 164.3C171.37 164.3 173.43 164.3 175.5 164.3C176.17 164.3 176.83 167.8 177.5 167.8C180.23 167.8 182.97 167.8 185.7 167.8C186.37 167.8 187.03 164.3 187.7 164.3C194.2 164.3 200.7 164.3 207.2 164.3C207.77 164.3 208.33 161.4 208.9 161.4C209.67 161.4 210.43 164.3 211.2 164.3C218.03 164.3 224.87 164.3 231.7 164.3C232.27 164.3 232.83 167.5 233.4 167.5C234 167.5 234.6 164.3 235.2 164.3C239.27 164.3 243.33 164.3 247.4 164.3C248 164.3 248.6 167.5 249.2 167.5C250.07 167.5 250.93 167.5 251.8 167.5C252.4 167.5 253 164.3 253.6 164.3C259.43 164.3 265.27 164.3 271.1 164.3C271.57 164.3 272.03 161.4 272.5 161.4C273.2 161.4 273.9 164.3 274.6 164.3C276.37 164.3 278.13 164.3 279.9 164.3" stroke="#d8404e"/>
<path d="M64.1 181.7C64.9 181.7 65.7 181.7 66.5 181.7C67.07 181.7 67.63 178.2 68.2 178.2C72.63 178.2 77.07 178.2 81.5 178.2C82.17 178.2 82.83 181.7 83.5 181.7C93.5 181.7 103.5 181.7 113.5 181.7C114.07 181.7 114.63 185.2 115.2 185.2C124.03 185.2 132.87 185.2 141.7 185.2C142.4 185.2 143.1 188.4 143.8 188.4C153.33 188.4 162.87 188.4 172.4 188.4C173.1 188.4 173.8 191.5 174.5 191.5C183.03 191.5 191.57 191.5 200.1 191.5C200.57 191.5 201.03 194.38 201.5 194.5C202 194.63 202.5 194.7 203 194.7C203.5 194.7 204 191.8 204.5 191.8C205 191.8 205.5 194.7 206 194.7C206.67 194.7 207.33 194.7 208 194.7C227.27 194.7 246.53 194.7 265.8 194.7" stroke="#3a3a3a"/>
<path d="M514.3 46.6C514.43 49.83 514.57 55.8 514.7 56.3C515.13 57.92 515.57 58.5 516 58.5C516.43 58.5 516.87 58.02 517.3 57.2C517.6 56.63 517.9 50.35 518.2 49.3C518.63 47.79 519.07 46.6 519.5 46.6C519.87 46.6 520.23 47.34 520.6 48.4C520.83 49.08 521.07 53.16 521.3 54.5C521.73 57 522.17 59.8 522.6 59.8C523.03 59.8 523.47 59.6 523.9 59.3C524.33 59 524.77 56.63 525.2 55.4C525.63 54.17 526.07 52.8 526.5 51.9C526.93 51 527.37 49.88 527.8 49.7C528.4 49.45 529 49.3 529.6 49.3C530.03 49.3 530.47 49.65 530.9 50.1C531.33 50.55 531.77 53.52 532.2 54.5C532.63 55.48 533.07 56.7 533.5 56.7C534.1 56.7 534.7 56.55 535.3 56.3C535.73 56.12 536.17 54.53 536.6 54.1C537.03 53.67 537.47 53.63 537.9 53.2C538.33 52.77 538.77 51.79 539.2 51C539.63 50.21 540.07 48.4 540.5 48.4C540.87 48.4 541.23 49.91 541.6 51C541.97 52.09 542.33 55.4 542.7 55.4C543.1 55.4 543.5 54.53 543.9 53.6C544.3 52.67 544.7 48.95 545.1 47.5C545.63 45.57 546.17 44.08 546.7 43.1C547.33 41.93 547.97 40.5 548.6 40.5C549.07 40.5 549.53 41.46 550 42.4C550.33 43.07 550.67 45.15 551 45.9C551.5 47.03 552 47.91 552.5 48.3C553.17 48.82 553.83 49.3 554.5 49.3C555 49.3 555.5 49.3 556 49.3C556.47 49.3 556.93 52.8 557.4 52.8C558.07 52.8 558.73 51.3 559.4 51.3C559.9 51.3 560.4 51.5 560.9 51.8C561.4 52.1 561.9 54.6 562.4 56.3C562.9 58 563.4 62.2 563.9 62.2C564.23 62.2 564.57 62 564.9 61.7C565.23 61.4 565.57 58.87 565.9 57.8C566.4 56.2 566.9 55.58 567.4 53.8C567.73 52.62 568.07 48.98 568.4 48.8C569.07 48.45 569.73 48.3 570.4 48.3C571.03 48.3 571.67 48.51 572.3 48.8C572.8 49.03 573.3 50.8 573.8 50.8C574.3 50.8 574.8 49.37 575.3 48.8C575.8 48.23 576.3 47.72 576.8 47.3C577.47 46.75 578.13 45.9 578.8 45.9C579.2 45.9 579.6 46.71 580 47.8C580.27 48.53 580.53 52.52 580.8 53.8C581.3 56.2 581.8 57.58 582.3 58.8C582.8 60.02 583.3 60.4 583.8 61.7C584.3 63 584.8 66.3 585.3 67.7C585.6 68.54 585.9 69.7 586.2 69.7C586.53 69.7 586.87 62.16 587.2 59.8C587.7 56.26 588.2 52.28 588.7 51.8C589.37 51.17 590.03 50.8 590.7 50.8C591.2 50.8 591.7 52.33 592.2 53.8C592.53 54.78 592.87 57.46 593.2 58.8C593.7 60.8 594.2 62.48 594.7 63.7C595.03 64.51 595.37 65.7 595.7 65.7C596.03 65.7 596.37 55.6 596.7 53.8C597.2 51.09 597.7 48.8 598.2 48.8C598.8 48.8 599.4 48.88 600 49C600.5 49.1 601 49.44 601.5 50C602.03 50.59 602.57 55.7 603.1 55.7C603.43 55.7 603.77 55.26 604.1 54.6C604.43 53.94 604.77 45.72 605.1 45.4C605.43 45.08 605.77 44.9 606.1 44.9C606.63 44.9 607.17 49 607.7 49C608.37 49 609.03 48.5 609.7 48C610.4 47.48 611.1 46.68 611.8 44.9C612.3 43.63 612.8 34.2 613.3 34.2C613.8 34.2 614.3 34.2 614.8 34.2C615.13 34.2 615.47 37.46 615.8 38.8C616.33 40.94 616.87 42.77 617.4 44.4C617.9 45.93 618.4 47.36 618.9 48.5C619.23 49.26 619.57 50.5 619.9 50.5C620.23 50.5 620.57 46.45 620.9 45.4C621.43 43.72 621.97 42.19 622.5 41.9C623.17 41.54 623.83 41.3 624.5 41.3C625.03 41.3 625.57 44.9 626.1 44.9C626.6 44.9 627.1 41.2 627.6 40.8C627.93 40.53 628.27 40.3 628.6 40.3C628.87 40.3 629.13 44.31 629.4 46.5C629.63 48.42 629.87 51.79 630.1 52.6C630.63 54.44 631.17 54.65 631.7 55.7C632.2 56.68 632.7 57.32 633.2 58.7C633.53 59.62 633.87 62.42 634.2 62.8C634.73 63.41 635.27 63.8 635.8 63.8C636.47 63.8 637.13 63.52 637.8 62.8C638.07 62.51 638.33 57.71 638.6 55.7C638.83 53.94 639.07 51.94 639.3 51.1C639.83 49.19 640.37 47.92 640.9 47.5C641.23 47.24 641.57 47 641.9 47C642.23 47 642.57 52.3 642.9 53.1C643.23 53.9 643.57 54.6 643.9 54.6C644.27 54.6 644.63 53.11 645 51.6C645.33 50.22 645.67 43.84 646 43.4C646.5 42.75 647 42.4 647.5 42.4C647.83 42.4 648.17 43.73 648.5 44.9C648.87 46.19 649.23 51.14 649.6 51.6C650.1 52.23 650.6 52.6 651.1 52.6C651.6 52.6 652.1 52.21 652.6 51.6C652.93 51.19 653.27 47.35 653.6 47C654.3 46.27 655 45.9 655.7 45.9C656.37 45.9 657.03 45.9 657.7 45.9C658.23 45.9 658.77 46.77 659.3 47.5C659.63 47.96 659.97 49.5 660.3 49.5C660.63 49.5 660.97 46.33 661.3 45.4C661.7 44.28 662.1 43.73 662.5 42.9" stroke="#c83cc8"/>
<path d="M497.7 74.7C497.97 73.83 498.23 72.77 498.5 72.1C498.87 71.18 499.23 70.13 499.6 69.9C499.97 69.67 500.33 69.5 500.7 69.5C501.07 69.5 501.43 70.9 501.8 71.8C502.17 72.7 502.53 73.99 502.9 75.1C503.3 76.32 503.7 76.7 504.1 78.8C504.33 80.03 504.57 85.33 504.8 87.8C504.93 89.21 505.07 91.5 505.2 91.5C505.57 91.5 505.93 88.08 506.3 86.3C506.8 83.87 507.3 78.8 507.8 78.8C508.3 78.8 508.8 78.8 509.3 78.8C509.53 78.8 509.77 75.67 510 73.6C510.27 71.23 510.53 66.23 510.8 64.7C511.17 62.6 511.53 60.6 511.9 60.6C512.27 60.6 512.63 60.77 513 61C513.37 61.23 513.73 62.28 514.1 63.2C514.47 64.12 514.83 65.73 515.2 66.9C515.7 68.49 516.2 70.09 516.7 71.4C517.07 72.36 517.43 74 517.8 74C518.3 74 518.8 72.88 519.3 72.1C519.67 71.52 520.03 69.9 520.4 69.9C520.9 69.9 521.4 69.9 521.9 69.9C522.4 69.9 522.9 69.69 523.4 69.5C523.77 69.36 524.13 69.11 524.5 68.8C525.17 68.23 525.83 65.9 526.5 65.9C526.93 65.9 527.37 66.8 527.8 66.8C528.27 66.8 528.73 64.6 529.2 64.6C529.63 64.6 530.07 64.75 530.5 65C530.93 65.25 531.37 69.14 531.8 70.3C532.23 71.46 532.67 72.9 533.1 72.9C533.53 72.9 533.97 71.54 534.4 70.3C534.77 69.25 535.13 65.21 535.5 65C535.97 64.74 536.43 64.6 536.9 64.6C537.4 64.6 537.9 64.74 538.4 65C538.83 65.22 539.27 70.31 539.7 71.2C540.13 72.09 540.57 72.9 541 72.9C541.43 72.9 541.87 70.86 542.3 69.4C542.63 68.27 542.97 65 543.3 65C543.7 65 544.1 69.06 544.5 71.2C544.87 73.16 545.23 76.41 545.6 77.3C545.97 78.19 546.33 79 546.7 79C547.13 79 547.57 77.9 548 77C548.5 75.96 549 73.66 549.5 72C549.83 70.89 550.17 70.39 550.5 68.7C550.83 67.01 551.17 59.56 551.5 57.8C552 55.15 552.5 53.36 553 52.8C553.5 52.24 554 51.8 554.5 51.8C555 51.8 555.5 53.78 556 54.8C556.63 56.1 557.27 57.16 557.9 58.8C558.4 60.09 558.9 62.75 559.4 63.7C559.9 64.65 560.4 65.7 560.9 65.7C561.57 65.7 562.23 65.45 562.9 65.2C563.57 64.95 564.23 63.7 564.9 63.7C565.4 63.7 565.9 64.5 566.4 65.2C566.9 65.9 567.4 68 567.9 68.7C568.4 69.4 568.9 70.2 569.4 70.2C570.07 70.2 570.73 69.93 571.4 69.7C572.03 69.48 572.67 68.7 573.3 68.7C573.8 68.7 574.3 69.75 574.8 70.7C575.13 71.33 575.47 73.7 575.8 73.7C576.13 73.7 576.47 72.24 576.8 71.7C577.3 70.89 577.8 69.7 578.3 69.7C578.8 69.7 579.3 70.8 579.8 71.2C580.3 71.6 580.8 72.2 581.3 72.2C581.8 72.2 582.3 71.99 582.8 71.7C583.3 71.41 583.8 70.21 584.3 68.7C584.63 67.69 584.97 63.64 585.3 63.2C585.77 62.58 586.23 62.41 586.7 62.2C587.2 61.97 587.7 61.92 588.2 61.7C588.7 61.48 589.2 60.86 589.7 60.7C590.37 60.49 591.03 60.51 591.7 60.3C592.2 60.14 592.7 59.3 593.2 59.3C593.63 59.3 594.07 60.58 594.5 62.7C594.73 63.84 594.97 74.7 595.2 74.7C595.53 74.7 595.87 74.7 596.2 74.7C596.63 74.7 597.07 67.58 597.5 66.7C598.07 65.55 598.63 65.49 599.2 64.7C599.63 64.09 600.07 63.24 600.5 62.5C601 61.64 601.5 60.6 602 59.9C602.57 59.1 603.13 57.9 603.7 57.9C604.13 57.9 604.57 58.34 605 59.9C605.13 60.38 605.27 83.7 605.4 83.7C605.77 83.7 606.13 82.62 606.5 82.1C606.87 81.58 607.23 81.46 607.6 80.6C607.93 79.82 608.27 72.7 608.6 72.7C608.83 72.7 609.07 73.1 609.3 73.1C610.17 73.1 611.03 68.64 611.9 67.8C612.57 67.16 613.23 66.5 613.9 66.5C614.57 66.5 615.23 67.56 615.9 68.5C616.77 69.72 617.63 74.58 618.5 75.1C619.17 75.5 619.83 75.8 620.5 75.8C621.17 75.8 621.83 71.41 622.5 69.1C623.17 66.79 623.83 62.94 624.5 61.9C625.17 60.86 625.83 59.9 626.5 59.9C626.93 59.9 627.37 62.5 627.8 64.5C628.23 66.5 628.67 71.9 629.1 73.1C629.77 74.94 630.43 76.4 631.1 76.4C631.77 76.4 632.43 71.91 633.1 70.5C633.77 69.09 634.43 67.2 635.1 67.2C635.77 67.2 636.43 69.52 637.1 71.1C637.77 72.68 638.43 75.36 639.1 77.1C639.77 78.84 640.43 81.7 641.1 81.7C641.73 81.7 642.37 80.36 643 79.1C643.67 77.78 644.33 73.85 645 71.8C645.67 69.75 646.33 67.44 647 66.5C647.43 65.89 647.87 65.2 648.3 65.2C648.97 65.2 649.63 69.8 650.3 69.8C650.77 69.8 651.23 68.87 651.7 68.5C652.33 68 652.97 67.63 653.6 67.2" stroke="#34dcd6"/>
<path d="M479.1 80.1C479.6 80.7 480.1 81.65 480.6 81.9C481.13 82.17 481.67 82.17 482.2 82.4C482.7 82.61 483.2 82.84 483.7 83.4C484.2 83.96 484.7 87.97 485.2 88.5C485.73 89.07 486.27 89.27 486.8 89.5C487.3 89.72 487.8 89.66 488.3 90C488.63 90.23 488.97 95.67 489.3 96.7C489.63 97.73 489.97 98.7 490.3 98.7C490.73 98.7 491.17 97.38 491.6 96.7C492.03 96.02 492.47 95.57 492.9 94.6C493.4 93.48 493.9 90.15 494.4 89C494.9 87.85 495.4 87.32 495.9 86.5C496.43 85.62 496.97 83.9 497.5 83.9C498 83.9 498.5 84.18 499 84.4C499.5 84.62 500 85 500.5 85.4C501.03 85.83 501.57 86.25 502.1 87C502.6 87.7 503.1 89.56 503.6 90.5C503.93 91.12 504.27 92.1 504.6 92.1C504.97 92.1 505.33 91.46 505.7 90.5C506.03 89.63 506.37 79.75 506.7 79.3C507.2 78.63 507.7 78.3 508.2 78.3C508.7 78.3 509.2 78.65 509.7 79.3C510.07 79.77 510.43 87.58 510.8 88.5C511.13 89.34 511.47 90 511.8 90C512.13 90 512.47 87.37 512.8 86.5C513.13 85.62 513.47 84.4 513.8 84.4C514.17 84.4 514.53 85.38 514.9 86C515.23 86.56 515.57 88 515.9 88C516.4 88 516.9 84.9 517.4 84.9C517.9 84.9 518.4 84.9 518.9 84.9C519.43 84.9 519.97 86.23 520.5 86.5C521 86.75 521.5 87 522 87C522.5 87 523 85.83 523.5 85.4C524.2 84.79 524.9 84.31 525.6 83.9C526.27 83.51 526.93 83.44 527.6 82.9C528.13 82.47 528.67 80.1 529.2 79.8C529.7 79.52 530.2 79.3 530.7 79.3C531.13 79.3 531.57 82.16 532 82.9C532.4 83.59 532.8 83.49 533.2 84.4C533.5 85.08 533.8 91.55 534.1 92.6C534.5 94 534.9 95.1 535.3 95.1C535.97 95.1 536.63 95.1 537.3 95.1C538 95.1 538.7 95.1 539.4 95.1C540.1 95.1 540.8 92.16 541.5 91.6C542.2 91.04 542.9 91.11 543.6 90.5C544.27 89.92 544.93 85.94 545.6 85.4C546.3 84.84 547 84.63 547.7 84.4C548.37 84.18 549.03 84.2 549.7 83.9C550.2 83.67 550.7 82.12 551.2 81.3C551.73 80.42 552.27 79.3 552.8 78.8C553.3 78.33 553.8 77.8 554.3 77.8C554.8 77.8 555.3 82.2 555.8 82.9C556.17 83.41 556.53 83.25 556.9 83.9C557.13 84.31 557.37 88.21 557.6 90.5C557.87 93.12 558.13 97.75 558.4 98.7C558.73 99.89 559.07 100.8 559.4 100.8C559.9 100.8 560.4 98.17 560.9 96.7C561.43 95.13 561.97 92.45 562.5 91.6C563 90.81 563.5 90 564 90C564.5 90 565 91.6 565.5 91.6C565.93 91.6 566.37 88.35 566.8 87C567.23 85.65 567.67 83.4 568.1 83.4C568.77 83.4 569.43 83.4 570.1 83.4C570.8 83.4 571.5 83.07 572.2 82.9C572.87 82.74 573.53 82.59 574.2 82.4C574.73 82.25 575.27 82.18 575.8 81.9C576.3 81.63 576.8 80.12 577.3 79.3C577.97 78.21 578.63 76.2 579.3 76.2C579.77 76.2 580.23 77.84 580.7 80.3C580.93 81.53 581.17 88.82 581.4 90.5C581.73 92.9 582.07 95.1 582.4 95.1C582.73 95.1 583.07 88.09 583.4 87.5C583.93 86.55 584.47 86.25 585 86C585.67 85.69 586.33 85.82 587 85.4C587.33 85.19 587.67 80.69 588 80.3C588.53 79.67 589.07 79.3 589.6 79.3C589.93 79.3 590.27 82.22 590.6 83.4C590.93 84.58 591.27 85.13 591.6 86.5C591.93 87.87 592.27 92.15 592.6 92.6C593.07 93.22 593.53 93.6 594 93.6C594.4 93.6 594.8 89.5 595.2 89.5C595.7 89.5 596.2 90.77 596.7 91.1C597.03 91.32 597.37 91.6 597.7 91.6C598.07 91.6 598.43 86.03 598.8 84.9C599.3 83.35 599.8 81.9 600.3 81.9C600.63 81.9 600.97 82.69 601.3 83.4C601.8 84.46 602.3 88.36 602.8 89.5C603.1 90.19 603.4 90.78 603.7 91C604.23 91.39 604.77 91.7 605.3 91.7C605.73 91.7 606.17 85.94 606.6 85.7C607.5 85.21 608.4 85 609.3 85C610.4 85 611.5 85.7 612.6 85.7C613.47 85.7 614.33 84.92 615.2 84.4C616.1 83.86 617 82.4 617.9 82.4C618.57 82.4 619.23 83.31 619.9 85C620.23 85.85 620.57 95.6 620.9 95.6C621.23 95.6 621.57 95.6 621.9 95.6C622.2 95.6 622.5 84.99 622.8 83.7C623.37 81.26 623.93 79.7 624.5 79.7C625.17 79.7 625.83 79.7 626.5 79.7C627.17 79.7 627.83 84.05 628.5 84.4C629.17 84.75 629.83 85 630.5 85C631.03 85 631.57 80.4 632.1 80.4C632.67 80.4 633.23 85.11 633.8 86.4C634.47 87.91 635.13 88.16 635.8 89.7C636.43 91.17 637.07 93.64 637.7 97C638.3 100.18 638.9 112.2 639.5 112.2C639.93 112.2 640.37 111.45 640.8 110.2C641.1 109.33 641.4 99.59 641.7 98.3C642.27 95.86 642.83 95.94 643.4 94.3C643.93 92.75 644.47 90.3 645 88.3" stroke="#4840bc"/>
<path d="M457.6 119.5C458.13 119.33 458.67 119.31 459.2 119C459.7 118.71 460.2 114.7 460.7 114.4C461.2 114.1 461.7 114.04 462.2 113.9C462.9 113.7 463.6 113.69 464.3 113.4C464.97 113.12 465.63 110.3 466.3 110.3C466.8 110.3 467.3 111.82 467.8 112.9C468.33 114.05 468.87 116.93 469.4 117.5C469.9 118.04 470.4 118.06 470.9 118.5C471.4 118.94 471.9 119.56 472.4 120.5C472.93 121.5 473.47 124.02 474 125.7C474.5 127.28 475 130.3 475.5 130.3C476 130.3 476.5 130.07 477 129.7C477.47 129.35 477.93 124.76 478.4 122.6C478.97 119.98 479.53 116.31 480.1 115.4C480.6 114.6 481.1 113.9 481.6 113.9C482.13 113.9 482.67 115.63 483.2 117C483.7 118.28 484.2 121.62 484.7 122.6C485.2 123.58 485.7 124.6 486.2 124.6C486.67 124.6 487.13 117.06 487.6 116.5C488.17 115.82 488.73 115.4 489.3 115.4C489.97 115.4 490.63 115.4 491.3 115.4C492 115.4 492.7 113.4 493.4 113.4C494.07 113.4 494.73 114.4 495.4 114.9C496.1 115.43 496.8 116.15 497.5 116.5C497.93 116.72 498.37 117 498.8 117C499.37 117 499.93 115.36 500.5 114.9C501.37 114.2 502.23 113.98 503.1 113.4C503.93 112.84 504.77 111.92 505.6 111.4C506.3 110.96 507 110.3 507.7 110.3C508.27 110.3 508.83 110.3 509.4 110.3C509.87 110.3 510.33 112.82 510.8 115.4C511.13 117.24 511.47 123.81 511.8 125.7C512.3 128.53 512.8 131.3 513.3 131.3C513.8 131.3 514.3 130.64 514.8 129.7C515.33 128.69 515.87 115.4 516.4 115.4C517 115.4 517.6 118.5 518.2 118.5C518.8 118.5 519.4 118 520 118C520.7 118 521.4 118.18 522.1 118.5C522.6 118.73 523.1 122.6 523.6 122.6C524.13 122.6 524.67 120.29 525.2 120C525.7 119.73 526.2 119.5 526.7 119.5C527.2 119.5 527.7 124.37 528.2 125.7C528.9 127.56 529.6 129.39 530.3 129.7C531.13 130.06 531.97 130.3 532.8 130.3C533.3 130.3 533.8 129.62 534.3 128.7C534.83 127.72 535.37 117.93 535.9 117.5C536.73 116.83 537.57 116.5 538.4 116.5C539.43 116.5 540.47 116.83 541.5 117C542.53 117.17 543.57 117.21 544.6 117.5C545.27 117.69 545.93 118.19 546.6 119C547.1 119.6 547.6 121.75 548.1 123.1C548.8 124.99 549.5 128.3 550.2 128.7C550.7 128.98 551.2 129.2 551.7 129.2C552.23 129.2 552.77 126.83 553.3 125.7C553.97 124.29 554.63 123.46 555.3 121.6C555.8 120.21 556.3 117.1 556.8 115.4C557.33 113.59 557.87 110.8 558.4 110.8C558.9 110.8 559.4 111.88 559.9 112.9C560.4 113.92 560.9 116.61 561.4 118.5C561.93 120.51 562.47 124.34 563 124.6C563.67 124.92 564.33 125.1 565 125.1C565.67 125.1 566.33 124.82 567 124.6C567.7 124.37 568.4 124.26 569.1 123.6C569.6 123.13 570.1 112.9 570.6 112.9C571.13 112.9 571.67 113.31 572.2 113.9C572.7 114.45 573.2 120.13 573.7 120.5C574.2 120.87 574.7 121.1 575.2 121.1C575.9 121.1 576.6 117.97 577.3 117.4C578.07 116.78 578.83 116.2 579.6 116.2C580.2 116.2 580.8 116.8 581.4 116.8C581.97 116.8 582.53 115.76 583.1 115.1C583.67 114.44 584.23 113.34 584.8 112.7C585.4 112.02 586 111 586.6 111C586.97 111 587.33 114.54 587.7 116.2C588.1 118.01 588.5 121.4 588.9 121.4C589.47 121.4 590.03 120.87 590.6 120.3C591.2 119.7 591.8 117.5 592.4 116.2C592.97 114.98 593.53 113.44 594.1 112.7C594.7 111.92 595.3 111 595.9 111C596.47 111 597.03 113.39 597.6 115.1C598.17 116.81 598.73 121.21 599.3 122C599.77 122.65 600.23 123.2 600.7 123.2C601.2 123.2 601.7 117.29 602.2 116.8C602.97 116.05 603.73 115.6 604.5 115.6C605.1 115.6 605.7 117.19 606.3 118C606.87 118.76 607.43 120.3 608 120.3C608.6 120.3 609.2 119.73 609.8 119.1C610.37 118.51 610.93 116.45 611.5 115.1C612.07 113.75 612.63 111.82 613.2 111C613.97 109.89 614.73 108.7 615.5 108.7C615.97 108.7 616.43 111.23 616.9 112.7C617.4 114.28 617.9 117.74 618.4 118C619 118.32 619.6 118.34 620.2 118.5C620.97 118.71 621.73 119.1 622.5 119.1C623.07 119.1 623.63 116.56 624.2 116.2C624.7 115.88 625.2 115.6 625.7 115.6C626.1 115.6 626.5 123.11 626.9 124.3C627.43 125.89 627.97 126.69 628.5 127.2C629.13 127.8 629.77 127.95 630.4 128.4C630.87 128.73 631.33 128.96 631.8 129.5C632.37 130.16 632.93 132.4 633.5 133.6C633.9 134.45 634.3 135.13 634.7 135.9" stroke="#40dc40"/>
<path d="M433.6 147.4C433.87 148.97 434.13 151.16 434.4 152.1C434.8 153.51 435.2 155 435.6 155C436.17 155 436.73 154.56 437.3 153.9C437.7 153.44 438.1 149.46 438.5 149.2C439.1 148.81 439.7 148.6 440.3 148.6C440.67 148.6 441.03 151.5 441.4 151.5C441.8 151.5 442.2 150.38 442.6 149.8C443 149.22 443.4 148 443.8 148C444.3 148 444.8 151 445.3 151C445.7 151 446.1 147.4 446.5 147.4C446.97 147.4 447.43 147.9 447.9 148.6C448.27 149.15 448.63 153.9 449 153.9C449.6 153.9 450.2 153.65 450.8 153.3C451.37 152.97 451.93 151.01 452.5 149.2C452.97 147.71 453.43 143.21 453.9 142.8C454.3 142.45 454.7 142.2 455.1 142.2C455.4 142.2 455.7 150.23 456 153.3C456.33 156.71 456.67 161.78 457 162C457.63 162.43 458.27 162.6 458.9 162.6C459.3 162.6 459.7 158.72 460.1 155C460.5 151.28 460.9 135.05 461.3 134C461.7 132.95 462.1 132.3 462.5 132.3C462.87 132.3 463.23 138.95 463.6 142.2C464 145.75 464.4 150.21 464.8 152.7C465.2 155.19 465.6 158.22 466 158.5C466.57 158.89 467.13 159.1 467.7 159.1C468.1 159.1 468.5 148.32 468.9 146.9C469.27 145.59 469.63 144.5 470 144.5C470.6 144.5 471.2 145.47 471.8 145.7C472.57 145.99 473.33 146.07 474.1 146.3C474.7 146.48 475.3 146.54 475.9 146.9C476.3 147.14 476.7 148.78 477.1 149.2C477.67 149.8 478.23 149.71 478.8 150.4C479.3 151.01 479.8 156.2 480.3 156.2C480.77 156.2 481.23 155.76 481.7 155C482.1 154.35 482.5 142.76 482.9 142.2C483.47 141.41 484.03 141 484.6 141C485.2 141 485.8 142.2 486.4 142.2C487.17 142.2 487.93 141.96 488.7 141.6C489.5 141.22 490.3 135.58 491.1 135.2C491.87 134.84 492.63 134.6 493.4 134.6C494 134.6 494.6 134.76 495.2 135.2C495.47 135.4 495.73 140.36 496 143.4C496.3 146.82 496.6 154.42 496.9 155C497.3 155.77 497.7 156.2 498.1 156.2C498.47 156.2 498.83 153.1 499.2 151.5C499.8 148.88 500.4 144.13 501 143.4C501.57 142.71 502.13 142.2 502.7 142.2C503.3 142.2 503.9 143.15 504.5 143.9C505.27 144.86 506.03 147.67 506.8 148.3C507.57 148.93 508.33 149.5 509.1 149.5C509.87 149.5 510.63 148.3 511.4 148.3C512 148.3 512.6 148.9 513.2 148.9C513.77 148.9 514.33 144.23 514.9 143.6C515.5 142.94 516.1 143.19 516.7 142.4C517.07 141.92 517.43 134.3 517.8 134.3C518.2 134.3 518.6 134.3 519 134.3C519.6 134.3 520.2 137.01 520.8 137.8C521.37 138.55 521.93 138.93 522.5 139.5C523.1 140.1 523.7 140.79 524.3 141.3C525.07 141.96 525.83 141.91 526.6 143C527 143.57 527.4 147.89 527.8 150C528.17 151.93 528.53 155.3 528.9 155.3C529.3 155.3 529.7 153.69 530.1 152.4C530.6 150.78 531.1 147.52 531.6 144.8C532.07 142.26 532.53 136.6 533 136.6C533.47 136.6 533.93 136.6 534.4 136.6C534.8 136.6 535.2 142.68 535.6 145.4C536 148.12 536.4 153 536.8 153C537.3 153 537.8 150.6 538.3 149.5C538.87 148.26 539.43 146.47 540 146C540.8 145.33 541.6 145.44 542.4 144.8C542.97 144.35 543.53 141.9 544.1 141.9C544.5 141.9 544.9 142.37 545.3 143C545.7 143.63 546.1 149.26 546.5 149.5C547.07 149.83 547.63 149.74 548.2 150C548.8 150.27 549.4 150.99 550 151.8C550.57 152.57 551.13 155.3 551.7 155.3C552.3 155.3 552.9 154.73 553.5 154.1C554.07 153.5 554.63 150.95 555.2 150C555.8 148.99 556.4 147.7 557 147.7C557.77 147.7 558.53 147.7 559.3 147.7C559.9 147.7 560.5 148.55 561.1 149.5C561.47 150.08 561.83 152.9 562.2 153C563 153.22 563.8 153.3 564.6 153.3C565.07 153.3 565.53 152.91 566 152.4C566.5 151.85 567 146.72 567.5 146.5C568.27 146.16 569.03 146.18 569.8 146C570.6 145.81 571.4 145.79 572.2 145.4C572.77 145.13 573.33 142.12 573.9 140.7C574.5 139.2 575.1 136.6 575.7 136.6C576.2 136.6 576.7 136.6 577.2 136.6C577.43 136.6 577.67 140.17 577.9 141.7C578.3 144.32 578.7 148.7 579.1 148.7C579.87 148.7 580.63 148.7 581.4 148.7C581.97 148.7 582.53 144.01 583.1 143.4C583.67 142.79 584.23 142.3 584.8 142.3C585.4 142.3 586 143.72 586.6 144.6C587.17 145.43 587.73 145.99 588.3 147.5C588.7 148.57 589.1 153.66 589.5 153.9C590.07 154.23 590.63 154.4 591.2 154.4C591.97 154.4 592.73 154.4 593.5 154.4C594.1 154.4 594.7 154.81 595.3 155.6C595.67 156.08 596.03 163.35 596.4 163.7C596.8 164.08 597.2 164.3 597.6 164.3C597.97 164.3 598.33 152.23 598.7 151C599.1 149.66 599.5 149.75 599.9 148.7C600.47 147.21 601.03 141.45 601.6 141.1C602.2 140.72 602.8 140.5 603.4 140.5C603.77 140.5 604.13 145.8 604.5 145.8C604.9 145.8 605.3 145.8 605.7 145.8C606.1 145.8 606.5 150.36 606.9 151C607.27 151.59 607.63 152.1 608 152.1C608.6 152.1 609.2 145.05 609.8 142.9C610.37 140.87 610.93 138.55 611.5 138.2C612.07 137.85 612.63 137.6 613.2 137.6C613.6 137.6 614 141.31 614.4 142.9C614.77 144.36 615.13 146.9 615.5 146.9C615.9 146.9 616.3 146.66 616.7 146.3C617.1 145.94 617.5 140.5 617.9 140.5C618.47 140.5 619.03 141.1 619.6 141.1C620.17 141.1 620.73 141.1 621.3 141.1C621.7 141.1 622.1 143.58 622.5 148.7C622.57 149.55 622.63 153.3 622.7 155.6" stroke="#d8404e"/>
<path d="M406.3 186.3C406.67 185.3 407.03 183.62 407.4 183.3C407.87 182.89 408.33 183 408.8 182.6C409.23 182.23 409.67 179.54 410.1 178.9C410.53 178.26 410.97 177.6 411.4 177.6C411.83 177.6 412.27 180.68 412.7 181.5C413.13 182.32 413.57 183.3 414 183.3C414.43 183.3 414.87 181.13 415.3 180.2C415.9 178.91 416.5 176.7 417.1 176.7C417.67 176.7 418.23 178.4 418.8 178.9C419.23 179.29 419.67 179.8 420.1 179.8C420.7 179.8 421.3 176.21 421.9 175C422.63 173.53 423.37 171.97 424.1 171.5C424.67 171.14 425.23 170.8 425.8 170.8C426.27 170.8 426.73 172.4 427.2 172.8C427.63 173.17 428.07 173.6 428.5 173.6C428.93 173.6 429.37 172.23 429.8 171.9C430.23 171.57 430.67 171.2 431.1 171.2C431.67 171.2 432.23 172.16 432.8 172.8C433.4 173.48 434 174.46 434.6 175.4C435.03 176.08 435.47 177.37 435.9 177.6C436.33 177.83 436.77 178 437.2 178C437.5 178 437.8 173.97 438.1 171C438.4 168.03 438.7 159.47 439 158.8C439.3 158.13 439.6 157.7 439.9 157.7C440.17 157.7 440.43 158.84 440.7 159.6C441.1 160.74 441.5 164 441.9 164C442.23 164 442.57 163.1 442.9 163.1C443.2 163.1 443.5 165.87 443.8 167.5C444.13 169.31 444.47 173.33 444.8 173.6C445.2 173.92 445.6 174.1 446 174.1C446.43 174.1 446.87 169.13 447.3 167.5C447.73 165.87 448.17 163.99 448.6 163.6C449.2 163.07 449.8 162.7 450.4 162.7C450.9 162.7 451.4 163.11 451.9 164C452.13 164.41 452.37 169.35 452.6 171C452.93 173.35 453.27 176.3 453.6 176.3C454.07 176.3 454.53 175.89 455 175.4C455.6 174.77 456.2 171.22 456.8 169.5C457.57 167.3 458.33 163.7 459.1 163.7C459.5 163.7 459.9 165.69 460.3 167.2C460.67 168.58 461.03 172.18 461.4 173C462 174.34 462.6 174.03 463.2 175.4C463.57 176.24 463.93 181.33 464.3 181.8C464.9 182.57 465.5 183 466.1 183C466.87 183 467.63 183 468.4 183C468.8 183 469.2 176.04 469.6 175.9C470.2 175.69 470.8 175.6 471.4 175.6C472.17 175.6 472.93 175.69 473.7 175.9C474.1 176.01 474.5 178.57 474.9 180C475.27 181.31 475.63 184.1 476 184.1C476.8 184.1 477.6 183.76 478.4 183.5C479.17 183.25 479.93 183.01 480.7 182.4C481.27 181.95 481.83 180.57 482.4 178.9C483 177.14 483.6 169.5 484.2 169.5C484.67 169.5 485.13 169.5 485.6 169.5C485.9 169.5 486.2 175.44 486.5 177.7C486.9 180.71 487.3 185.3 487.7 185.3C488.3 185.3 488.9 184.8 489.5 184.1C490.07 183.44 490.63 177.85 491.2 176.5C491.8 175.07 492.4 174.09 493 173.6C493.97 172.81 494.93 172.1 495.9 172.1C496.37 172.1 496.83 173.73 497.3 175.4C497.67 176.71 498.03 183 498.4 183C499.1 183 499.8 183 500.5 183C501.3 183 502.1 182.54 502.9 181.8C503.3 181.43 503.7 178.3 504.1 178.3C504.57 178.3 505.03 178.3 505.5 178.3C505.8 178.3 506.1 183 506.4 183C507.17 183 507.93 183 508.7 183C509.5 183 510.3 180.28 511.1 177.7C511.67 175.87 512.23 169.62 512.8 168.4C513.4 167.11 514 167.42 514.6 166C514.97 165.13 515.33 158.4 515.7 158.4C516.1 158.4 516.5 158.93 516.9 159.6C517.3 160.27 517.7 165.48 518.1 166C518.67 166.74 519.23 166.49 519.8 167.2C520.2 167.7 520.6 171.53 521 171.9C521.77 172.61 522.53 172.42 523.3 173C523.9 173.45 524.5 174.44 525.1 175.9C525.57 177.04 526.03 182.4 526.5 182.4C527.2 182.4 527.9 182.4 528.6 182.4C529.07 182.4 529.53 181.46 530 180.3C530.47 179.15 530.93 173.4 531.4 170.4C531.9 167.19 532.4 161.6 532.9 161.6C533.5 161.6 534.1 164.28 534.7 165.1C535.27 165.87 535.83 166.33 536.4 166.9C537 167.5 537.6 167.82 538.2 168.6C538.77 169.34 539.33 170.37 539.9 172.1C540.3 173.32 540.7 178.5 541.1 178.5C541.5 178.5 541.9 178.03 542.3 177.4C542.67 176.82 543.03 172.12 543.4 171.5C544 170.48 544.6 170.23 545.2 169.8C545.9 169.3 546.6 168.6 547.3 168.6C547.77 168.6 548.23 171.76 548.7 175C549.1 177.78 549.5 191.4 549.9 191.4C550.37 191.4 550.83 191.4 551.3 191.4C551.67 191.4 552.03 182.15 552.4 178.5C552.9 173.52 553.4 168.1 553.9 165.7C554.3 163.78 554.7 161.6 555.1 161.6C555.6 161.6 556.1 162.33 556.6 163.4C557.07 164.4 557.53 176.2 558 176.2C558.6 176.2 559.2 174.79 559.8 173.9C560.37 173.06 560.93 172.41 561.5 170.9C562.1 169.3 562.7 163 563.3 161C563.87 159.11 564.43 156.9 565 156.9C565.6 156.9 566.2 159.11 566.8 160.4C567.37 161.62 567.93 163 568.5 164.5C569.1 166.09 569.7 169.07 570.3 169.8C571.07 170.73 571.83 170.7 572.6 171.5C573.2 172.12 573.8 173.63 574.4 174.5C575.17 175.61 575.93 176.14 576.7 177.4C577.3 178.39 577.9 181.5 578.5 181.5C579 181.5 579.5 180.99 580 180.3C580.47 179.66 580.93 174.74 581.4 173.9C582.17 172.53 582.93 171.81 583.7 171.5C584.5 171.18 585.3 170.9 586.1 170.9C586.87 170.9 587.63 171.5 588.4 171.5C589.17 171.5 589.93 170.5 590.7 169.8C591.5 169.07 592.3 166.9 593.1 166.9C593.67 166.9 594.23 167.38 594.8 168C595.4 168.66 596 173.39 596.6 175C597.17 176.52 597.73 178.5 598.3 178.5C599.1 178.5 599.9 178.5 600.7 178.5C601.27 178.5 601.83 174.48 602.4 172.7C602.87 171.23 603.33 168.6 603.8 168.6C604.3 168.6 604.8 169.75 605.3 170.4C605.7 170.92 606.1 172.1 606.5 172.1C607.07 172.1 607.63 167.44 608.2 166.9C608.53 166.58 608.87 166.5 609.2 166.3" stroke="#3a3a3a"/>
<path d="M169.1 338.4C169.5 339.17 169.9 339.24 170.3 340.7C170.47 341.31 170.63 346.03 170.8 346.5C171.4 348.19 172 347.6 172.6 348.9C173 349.77 173.4 354.48 173.8 354.7C174.57 355.12 175.33 355.3 176.1 355.3C176.5 355.3 176.9 350.05 177.3 349.5C177.67 348.99 178.03 348.6 178.4 348.6C180.57 348.6 182.73 348.6 184.9 348.6C185.27 348.6 185.63 350 186 350.6C186.4 351.26 186.8 352.4 187.2 352.4C187.5 352.4 187.8 349.67 188.1 348.9C188.57 347.7 189.03 346.55 189.5 346.3C190.3 345.87 191.1 345.6 191.9 345.6C197.33 345.6 202.77 345.6 208.2 345.6C208.67 345.6 209.13 341.9 209.6 341.3C210.1 340.66 210.6 340.1 211.1 340.1C211.7 340.1 212.3 340.32 212.9 340.7C213.3 340.95 213.7 343.9 214.1 344C214.67 344.13 215.23 344.07 215.8 344.2C216.3 344.31 216.8 346.26 217.3 347.7C217.7 348.85 218.1 352.1 218.5 352.1C218.97 352.1 219.43 351.68 219.9 351.2C220.3 350.79 220.7 348.51 221.1 348.3C221.87 347.91 222.63 348.13 223.4 347.7C223.8 347.47 224.2 337.06 224.6 336C224.97 335.03 225.33 334.3 225.7 334.3C226.87 334.3 228.03 334.9 229.2 334.9C230.2 334.9 231.2 334.84 232.2 334.6C232.47 334.53 232.73 326.89 233 326.1C233.37 325.02 233.73 324.3 234.1 324.3C234.43 324.3 234.77 325.85 235.1 327.8C235.3 328.97 235.5 335.74 235.7 336C236.27 336.75 236.83 337 237.4 337C238 337 238.6 333.99 239.2 333.7C239.93 333.34 240.67 333.1 241.4 333.1C241.7 333.1 242 336.94 242.3 337.8C242.7 338.95 243.1 340.1 243.5 340.1C244.27 340.1 245.03 340.1 245.8 340.1C246.2 340.1 246.6 335.32 247 334.9C247.6 334.28 248.2 333.9 248.8 333.9C254.03 333.9 259.27 333.9 264.5 333.9C265.1 333.9 265.7 331.08 266.3 330.8C267.07 330.44 267.83 330.58 268.6 330.2C269 330 269.4 328.98 269.8 327.8C270.07 327.02 270.33 324.11 270.6 323.8C271.1 323.22 271.6 322.9 272.1 322.9C272.7 322.9 273.3 323.18 273.9 323.8C274.2 324.11 274.5 330.54 274.8 330.8C275.27 331.21 275.73 331.14 276.2 331.4C276.67 331.66 277.13 331.76 277.6 332.5C277.9 332.98 278.2 342.53 278.5 344.2C278.9 346.43 279.3 347.83 279.7 348.3C280.3 349 280.9 349.37 281.5 349.5C282.27 349.67 283.03 349.8 283.8 349.8C284.07 349.8 284.33 343.73 284.6 341.9C284.9 339.84 285.2 337.59 285.5 337.2C286.1 336.42 286.7 336 287.3 336C287.9 336 288.5 337.66 289.1 337.8C289.87 337.98 290.63 338.1 291.4 338.1C291.97 338.1 292.53 338.02 293.1 337.8C293.4 337.68 293.7 329.37 294 329C294.5 328.39 295 328.1 295.5 328.1C301.53 328.1 307.57 328.1 313.6 328.1C313.97 328.1 314.33 331.52 314.7 332.5C315.1 333.57 315.5 333.53 315.9 334.9C316.3 336.27 316.7 348.23 317.1 348.9C317.3 349.24 317.5 349.3 317.7 349.5" stroke="#c83cc8"/>
<path d="M152 366.1C152.13 364.3 152.27 360.7 152.4 360.7C152.83 360.7 153.27 360.86 153.7 361.1C154.1 361.32 154.5 363.84 154.9 364C155.73 364.34 156.57 364.17 157.4 364.5C157.8 364.66 158.2 365.45 158.6 366.5C158.9 367.29 159.2 370.38 159.5 371.5C159.9 373 160.3 373.94 160.7 374.8C161.1 375.66 161.5 376.4 161.9 376.9C162.47 377.61 163.03 377.93 163.6 378.5C164 378.9 164.4 378.89 164.8 379.8C164.97 380.18 165.13 385.97 165.3 386.4C165.8 387.68 166.3 388.2 166.8 388.2C167.7 388.2 168.6 387.88 169.5 387.7C170.23 387.55 170.97 387.35 171.7 387.2C172.77 386.98 173.83 386.6 174.9 386.6C175.63 386.6 176.37 386.81 177.1 387.2C177.63 387.48 178.17 392.07 178.7 393.1C179.23 394.13 179.77 394.95 180.3 395.2C181.03 395.54 181.77 395.8 182.5 395.8C183.03 395.8 183.57 395.2 184.1 395.2C184.47 395.2 184.83 397.46 185.2 398.5C185.73 400.02 186.27 401.86 186.8 402.8C187.33 403.74 187.87 404.9 188.4 404.9C188.77 404.9 189.13 403.39 189.5 402.8C190.03 401.94 190.57 401.37 191.1 400.6C191.8 399.59 192.5 398.24 193.2 397.4C193.73 396.76 194.27 395.8 194.8 395.8C195.37 395.8 195.93 396.91 196.5 397.9C196.83 398.48 197.17 400.6 197.5 400.6C198.07 400.6 198.63 399.53 199.2 398.5C199.73 397.53 200.27 394.47 200.8 393.1C201.33 391.73 201.87 390.04 202.4 389.8C203.1 389.49 203.8 389.46 204.5 389.3C205.23 389.13 205.97 388.96 206.7 388.8C207.6 388.6 208.5 388.2 209.4 388.2C209.93 388.2 210.47 388.46 211 389.3C211.17 389.56 211.33 397.28 211.5 397.4C212.07 397.8 212.63 397.88 213.2 397.9C220.03 398.16 226.87 397.92 233.7 398.2C234.1 398.22 234.5 401.07 234.9 401.7C235.27 402.28 235.63 402.9 236 402.9C236.6 402.9 237.2 401.16 237.8 400C238.37 398.9 238.93 396.72 239.5 395.9C240.3 394.74 241.1 394.8 241.9 393.5C242.27 392.9 242.63 391.58 243 390C243.4 388.28 243.8 382.88 244.2 381.9C244.6 380.92 245 380.26 245.4 380.1C246.37 379.71 247.33 379.99 248.3 379.5C248.5 379.4 248.7 375.72 248.9 374.9C249.2 373.67 249.5 373.28 249.8 372.5C250.27 371.29 250.73 369.08 251.2 369C251.97 368.86 252.73 368.8 253.5 368.8C259.17 368.8 264.83 368.8 270.5 368.8C270.87 368.8 271.23 369.48 271.6 371.4C271.73 372.1 271.87 389.01 272 390C272.4 392.97 272.8 394.1 273.2 394.1C273.73 394.1 274.27 393.86 274.8 393.5C275.3 393.16 275.8 390.89 276.3 388.9C276.9 386.51 277.5 380.22 278.1 378.4C278.67 376.68 279.23 375.37 279.8 374.9C280.6 374.23 281.4 373.94 282.2 373.7C283.17 373.41 284.13 373.51 285.1 373.1C285.67 372.86 286.23 368.81 286.8 367.8C287.3 366.91 287.8 366.19 288.3 365.9C288.83 365.59 289.37 365.3 289.9 365.3C290.37 365.3 290.83 365.89 291.3 366.6C291.63 367.11 291.97 369.88 292.3 370.2C292.73 370.62 293.17 370.43 293.6 370.9C293.8 371.12 294 374.02 294.2 374.2C294.77 374.7 295.33 374.52 295.9 374.9C296.33 375.19 296.77 375.57 297.2 376.9C297.37 377.41 297.53 381.46 297.7 382.8C297.97 384.95 298.23 387.17 298.5 387.5C298.97 388.08 299.43 388.4 299.9 388.4C303.43 388.4 306.97 388.4 310.5 388.4" stroke="#34dcd6"/>
<path d="M132.4 381.1C133.2 381.1 134 381.1 134.8 381.1C135.37 381.1 135.93 380.5 136.5 380.5C137.1 380.5 137.7 381.26 138.3 381.7C138.87 382.12 139.43 383.1 140 383.1C140.6 383.1 141.2 382.63 141.8 382.3C142.37 381.99 142.93 381.1 143.5 381.1C144.1 381.1 144.7 382.3 145.3 382.3C145.87 382.3 146.43 380.5 147 380.5C147.47 380.5 147.93 381.7 148.4 381.7C148.93 381.7 149.47 379.3 150 379.3C150.57 379.3 151.13 381.7 151.7 381.7C152.3 381.7 152.9 380.11 153.5 379.3C154.07 378.54 154.63 377.65 155.2 377C155.6 376.54 156 375.8 156.4 375.8C156.97 375.8 157.53 378.2 158.1 378.2C158.7 378.2 159.3 377 159.9 377C160.47 377 161.03 377.32 161.6 377.6C162.2 377.9 162.8 379.1 163.4 379.1C163.97 379.1 164.53 378.92 165.1 378.8C166.1 378.58 167.1 377.91 168.1 377.9C174.33 377.81 180.57 377.8 186.8 377.8C187.33 377.8 187.87 378.82 188.4 379.6C188.77 380.14 189.13 381.8 189.5 381.8C190.03 381.8 190.57 380.93 191.1 380.7C191.63 380.47 192.17 380.2 192.7 380.2C193.23 380.2 193.77 381.39 194.3 381.8C195.2 382.48 196.1 383.4 197 383.4C197.73 383.4 198.47 383.4 199.2 383.4C199.73 383.4 200.27 381.2 200.8 381.2C201.13 381.2 201.47 381.91 201.8 382.3C202.37 382.97 202.93 383.86 203.5 384.5C204.03 385.1 204.57 386.1 205.1 386.1C206 386.1 206.9 386.1 207.8 386.1C208.7 386.1 209.6 385.89 210.5 385.5C211.03 385.27 211.57 382.3 212.1 382.3C212.63 382.3 213.17 382.3 213.7 382.3C214.9 382.3 216.1 382.58 217.3 383C217.9 383.21 218.5 384.3 219.1 384.8C219.67 385.27 220.23 386 220.8 386C221.4 386 222 385.42 222.6 384.8C223 384.39 223.4 382.4 223.8 382.4C224.37 382.4 224.93 384.8 225.5 384.8C226.1 384.8 226.7 382.92 227.3 382.4C227.87 381.91 228.43 381.3 229 381.3C229.6 381.3 230.2 383.6 230.8 383.6C231.37 383.6 231.93 381.81 232.5 381.3C233.1 380.76 233.7 380.1 234.3 380.1C234.87 380.1 235.43 383 236 383C236.8 383 237.6 381.77 238.4 380.7C238.97 379.94 239.53 377.2 240.1 377.2C240.7 377.2 241.3 377.92 241.9 378.4C242.47 378.85 243.03 380.1 243.6 380.1C244.2 380.1 244.8 379.68 245.4 379.5C246.17 379.27 246.93 378.9 247.7 378.9C248.47 378.9 249.23 379.24 250 379.5C250.8 379.77 251.6 380.7 252.4 380.7C252.97 380.7 253.53 379.16 254.1 378.4C254.7 377.59 255.3 376 255.9 376C256.47 376 257.03 376.69 257.6 377.2C258.2 377.74 258.8 379.5 259.4 379.5C259.97 379.5 260.53 378.37 261.1 377.8C261.7 377.2 262.3 376 262.9 376C263.47 376 264.03 376 264.6 376C265.2 376 265.8 376.6 266.4 376.6C266.97 376.6 267.53 375.35 268.1 374.9C268.7 374.42 269.3 373.7 269.9 373.7C270.67 373.7 271.43 374.14 272.2 374.3C273.37 374.54 274.53 374.72 275.7 374.9C276.87 375.08 278.03 375.15 279.2 375.4C280.13 375.6 281.07 376.26 282 376.5C282.67 376.67 283.33 376.9 284 376.9C284.43 376.9 284.87 376.32 285.3 375.9C285.73 375.48 286.17 374.59 286.6 374.2C286.93 373.9 287.27 373.5 287.6 373.5C287.93 373.5 288.27 374.62 288.6 374.9C288.93 375.18 289.27 375.5 289.6 375.5C290.03 375.5 290.47 374.5 290.9 374.5C291.37 374.5 291.83 374.73 292.3 374.9C292.73 375.05 293.17 375.28 293.6 375.5C294.03 375.72 294.47 376.06 294.9 376.2C295.33 376.34 295.77 376.5 296.2 376.5C296.63 376.5 297.07 376.14 297.5 375.9C297.97 375.64 298.43 374.9 298.9 374.9C299.23 374.9 299.57 375.05 299.9 375.2C300.23 375.35 300.57 375.87 300.9 376.2" stroke="#4840bc"/>
<path d="M111.4 400.9C112 400.8 112.6 400.6 113.2 400.6C113.57 400.6 113.93 401.9 114.3 402.7C114.9 404.01 115.5 404.54 116.1 407.4C116.3 408.35 116.5 413.21 116.7 414.4C117.07 416.58 117.43 418.4 117.8 418.5C118.6 418.72 119.4 418.8 120.2 418.8C120.6 418.8 121 416.03 121.4 415C121.77 414.06 122.13 412.97 122.5 412.6C123.1 412 123.7 412.05 124.3 411.5C124.67 411.16 125.03 410.59 125.4 409.7C125.8 408.73 126.2 404.77 126.6 403.9C127.2 402.6 127.8 401.5 128.4 401.5C128.97 401.5 129.53 401.82 130.1 402.1C130.7 402.4 131.3 403.46 131.9 403.6C132.67 403.78 133.43 403.9 134.2 403.9C134.67 403.9 135.13 403.42 135.6 402.7C135.9 402.23 136.2 398.86 136.5 398C136.9 396.85 137.3 396.56 137.7 395.7C138.1 394.84 138.5 393.06 138.9 392.8C139.47 392.44 140.03 392.39 140.6 392.2C141.2 391.99 141.8 391.99 142.4 391.6C142.77 391.36 143.13 388.48 143.5 387.5C143.9 386.43 144.3 385.26 144.7 385C145.47 384.51 146.23 384.39 147 384.2C148.07 383.94 149.13 383.8 150.2 383.6C150.9 383.47 151.6 383.2 152.3 383.2C152.83 383.2 153.37 386.97 153.9 387.2C154.63 387.52 155.37 387.47 156.1 387.7C156.8 387.92 157.5 388.4 158.2 388.8C158.73 389.11 159.27 389.8 159.8 389.8C160.37 389.8 160.93 389.1 161.5 388.2C161.83 387.67 162.17 384.5 162.5 384.5C162.97 384.5 163.43 384.5 163.9 384.5C164.33 384.5 164.77 387.2 165.2 387.2C165.73 387.2 166.27 387.2 166.8 387.2C168.43 387.2 170.07 386.6 171.7 386.6C173.13 386.6 174.57 386.6 176 386.6C176.37 386.6 176.73 386.82 177.1 387.2C177.47 387.58 177.83 398.76 178.2 400.6C178.53 402.27 178.87 403.71 179.2 403.8C181 404.29 182.8 404.04 184.6 404.4C185.33 404.55 186.07 404.85 186.8 405.5C187.23 405.88 187.67 408.7 188.1 408.7C188.57 408.7 189.03 406.34 189.5 406C190.4 405.35 191.3 405.11 192.2 404.9C193.27 404.66 194.33 404.4 195.4 404.4C196.47 404.4 197.53 404.4 198.6 404.4C198.97 404.4 199.33 402.9 199.7 401.7C200.07 400.5 200.43 397.78 200.8 396.3C201.33 394.14 201.87 391.96 202.4 390.9C202.77 390.17 203.13 389.3 203.5 389.3C204.03 389.3 204.57 390.15 205.1 390.4C206.17 390.91 207.23 390.93 208.3 391.5C208.67 391.7 209.03 391.8 209.4 392.5C209.57 392.82 209.73 398.52 209.9 399C210.43 400.54 210.97 401.16 211.5 401.2C217.73 401.65 223.97 401.23 230.2 401.7C230.6 401.73 231 404.6 231.4 406.4C231.77 408.05 232.13 411.95 232.5 412.2C233.1 412.6 233.7 412.8 234.3 412.8C234.87 412.8 235.43 412.51 236 412.2C236.6 411.87 237.2 410.49 237.8 409.9C238.57 409.15 239.33 409.11 240.1 408.1C240.7 407.31 241.3 403.5 241.9 401.7C242.27 400.6 242.63 398.99 243 398.8C243.8 398.39 244.6 398.61 245.4 398.2C245.77 398.01 246.13 395.95 246.5 395.3C247.1 394.24 247.7 393.45 248.3 393C248.87 392.58 249.43 392.1 250 392.1C250.8 392.1 251.6 393.47 252.4 393.5C259 393.76 265.6 393.8 272.2 393.8C272.8 393.8 273.4 393.22 274 392.4C274.37 391.9 274.73 389.05 275.1 388.3C275.7 387.07 276.3 386.15 276.9 385.9C278.07 385.41 279.23 385.67 280.4 385.1C280.8 384.9 281.2 382.42 281.6 381.9C282.17 381.16 282.73 380.5 283.3 380.5C283.9 380.5 284.5 380.63 285.1 380.9C285.47 381.07 285.83 384.28 286.2 385.4C286.6 386.62 287 388.26 287.4 388.3C288.23 388.37 289.07 388.37 289.9 388.4" stroke="#40dc40"/>
<path d="M87.5 443.4C87.97 443.23 88.43 442.9 88.9 442.9C89.47 442.9 90.03 443.53 90.6 443.8C91.2 444.09 91.8 444.6 92.4 444.6C93.1 444.6 93.8 444.6 94.5 444.6C94.87 444.6 95.23 446.19 95.6 447.3C95.9 448.21 96.2 450.59 96.5 450.8C97.07 451.2 97.63 451.4 98.2 451.4C98.8 451.4 99.4 451.3 100 451.1C100.37 450.98 100.73 448.7 101.1 447.8C101.5 446.81 101.9 445.3 102.3 445.3C102.7 445.3 103.1 445.73 103.5 446.1C103.87 446.44 104.23 447.49 104.6 447.8C105.2 448.31 105.8 448.6 106.4 448.8C106.97 448.99 107.53 449.09 108.1 449.2C108.9 449.36 109.7 449.35 110.5 449.6C111.07 449.78 111.63 450.59 112.2 452.5C112.4 453.18 112.6 459.29 112.8 459.5C113.2 459.93 113.6 459.87 114 460.1C114.57 460.43 115.13 460.58 115.7 461.3C116.1 461.81 116.5 465.61 116.9 466.5C117.3 467.39 117.7 468.3 118.1 468.3C118.67 468.3 119.23 466.5 119.8 466.5C120.4 466.5 121 468.3 121.6 468.3C122.17 468.3 122.73 467.41 123.3 467.1C123.9 466.77 124.5 466.45 125.1 466.3C125.87 466.1 126.63 465.9 127.4 465.9C128 465.9 128.6 466.09 129.2 466.5C129.57 466.75 129.93 472.15 130.3 472.4C130.9 472.81 131.5 473 132.1 473C132.5 473 132.9 469.92 133.3 469.7C133.73 469.46 134.17 469.3 134.6 469.3C135.5 469.3 136.4 469.43 137.3 469.7C137.73 469.83 138.17 471.36 138.6 471.7C139.27 472.22 139.93 472.7 140.6 472.7C141.47 472.7 142.33 472.48 143.2 472.3C143.87 472.16 144.53 472.01 145.2 471.7C145.87 471.39 146.53 470.47 147.2 469.7C147.87 468.93 148.53 468.35 149.2 467C149.63 466.13 150.07 463.72 150.5 462.4C150.83 461.38 151.17 460.76 151.5 459.7C151.83 458.64 152.17 456.28 152.5 455.8C152.93 455.18 153.37 454.7 153.8 454.7C154.47 454.7 155.13 454.7 155.8 454.7C156.47 454.7 157.13 453.41 157.8 451.1C158.03 450.29 158.27 444.64 158.5 443.8C158.93 442.24 159.37 442.08 159.8 441.2C160.23 440.32 160.67 439.21 161.1 438.5C161.57 437.73 162.03 436.6 162.5 436.6C163.37 436.6 164.23 436.6 165.1 436.6C165.33 436.6 165.57 433.71 165.8 432.6C166.13 431.01 166.47 428.95 166.8 428.6C167.33 428.04 167.87 427.7 168.4 427.7C176 427.7 183.6 427.7 191.2 427.7C191.57 427.7 191.93 430.01 192.3 433.2C192.5 434.94 192.7 440.7 192.9 446.5C193.03 450.37 193.17 461.42 193.3 462.4C193.83 466.33 194.37 464.76 194.9 467.7C195.13 468.99 195.37 474.92 195.6 475.6C196.03 476.87 196.47 477.6 196.9 477.6C197.77 477.6 198.63 477.35 199.5 477C200.17 476.73 200.83 475.26 201.5 474.3C201.93 473.67 202.37 472.48 202.8 472.3C203.7 471.92 204.6 472.02 205.5 471.7C205.87 471.57 206.23 471.43 206.6 471C206.93 470.61 207.27 466.93 207.6 465.3C208.07 463.02 208.53 459.4 209 459.4C210.1 459.4 211.2 459.4 212.3 459.4C212.73 459.4 213.17 447.59 213.6 446.8C214.03 446.01 214.47 446.18 214.9 445.5C215.37 444.77 215.83 440.79 216.3 440.2C216.73 439.65 217.17 439.2 217.6 439.2C224.67 439.2 231.73 439.2 238.8 439.2C239.23 439.2 239.67 439.74 240.1 441.5C240.23 442.04 240.37 458.44 240.5 458.7C241.03 459.75 241.57 459.98 242.1 460C251.13 460.28 260.17 460.3 269.2 460.3C269.43 460.3 269.67 458.07 269.9 457.4C270.33 456.16 270.77 456 271.2 454.7C271.43 454 271.67 451.7 271.9 451.4C272.57 450.53 273.23 450.27 273.9 450.1C274.77 449.88 275.63 449.99 276.5 449.7C276.87 449.58 277.23 449.16 277.6 446.8C277.67 446.37 277.73 438.4 277.8 434.2" stroke="#d8404e"/>
<path d="M59.4 443.2C59.57 444.73 59.73 446.3 59.9 447.8C60.1 449.6 60.3 452.77 60.5 453.1C61 453.93 61.5 454.3 62 454.3C62.6 454.3 63.2 453.27 63.8 453.1C64.37 452.94 64.93 452.8 65.5 452.8C66.27 452.8 67.03 453.1 67.8 453.1C68.2 453.1 68.6 452.26 69 451.4C69.2 450.97 69.4 449.2 69.6 449.2C84 449.2 98.4 449.2 112.8 449.2C113.2 449.2 113.6 449.96 114 451.4C114.2 452.12 114.4 457.12 114.6 460.7C114.77 463.69 114.93 470.92 115.1 471.2C115.5 471.86 115.9 472.02 116.3 472.1C117.27 472.3 118.23 472.23 119.2 472.4C119.8 472.51 120.4 473.3 121 473.3C128.87 473.3 136.73 473.3 144.6 473.3C144.93 473.3 145.27 474.15 145.6 475.6C145.8 476.47 146 484.49 146.2 486.2C146.53 489.05 146.87 491.34 147.2 491.5C148.3 492.04 149.4 492.2 150.5 492.2C150.83 492.2 151.17 490.37 151.5 488.9C151.83 487.43 152.17 482.55 152.5 482.3C153.17 481.81 153.83 481.6 154.5 481.6C155.4 481.6 156.3 481.95 157.2 482.3C157.83 482.54 158.47 483.6 159.1 483.6C159.63 483.6 160.17 480.8 160.7 480.3C161.07 479.95 161.43 479.6 161.8 479.6C170.4 479.6 179 479.6 187.6 479.6C188.03 479.6 188.47 478.72 188.9 478.3C189.37 477.85 189.83 477.1 190.3 477C191.17 476.81 192.03 476.7 192.9 476.7C193.57 476.7 194.23 477.34 194.9 477.6C195.57 477.86 196.23 478.3 196.9 478.3C197.57 478.3 198.23 477.9 198.9 477.6C199.57 477.3 200.23 476.56 200.9 476.3C201.77 475.96 202.63 475.6 203.5 475.6C204.17 475.6 204.83 476.55 205.5 477C206.17 477.45 206.83 478.3 207.5 478.3C208.87 478.3 210.23 478.3 211.6 478.3C215.13 478.3 218.67 478.3 222.2 478.3C222.63 478.3 223.07 475.06 223.5 473.3C223.97 471.41 224.43 467.7 224.9 467.3C225.57 466.73 226.23 466.4 226.9 466.4C228.2 466.4 229.5 466.4 230.8 466.4C231.47 466.4 232.13 464.83 232.8 464.7C234.13 464.44 235.47 464.6 236.8 464.3C237.23 464.2 237.67 462.19 238.1 461.4C238.53 460.61 238.97 459.4 239.4 459.4C240.07 459.4 240.73 459.4 241.4 459.4C242.07 459.4 242.73 460.7 243.4 460.7C250.23 460.7 257.07 460.7 263.9 460.7" stroke="#3a3a3a"/>
<path d="M514.2 348.7C514.4 350.8 514.6 354.13 514.8 355C515.17 356.6 515.53 356.96 515.9 357.8C516.33 358.79 516.77 360.5 517.2 360.5C517.5 360.5 517.8 359.73 518.1 358.7C518.33 357.9 518.57 352.7 518.8 351.8C519.2 350.25 519.6 349.1 520 349.1C520.43 349.1 520.87 350.5 521.3 350.5C521.77 350.5 522.23 350.26 522.7 350C523.17 349.74 523.63 348.38 524.1 348.2C524.7 347.97 525.3 347.8 525.9 347.8C526.5 347.8 527.1 348.2 527.7 348.2C528.17 348.2 528.63 347.68 529.1 347.3C529.53 346.95 529.97 345.9 530.4 345.9C530.87 345.9 531.33 347.3 531.8 347.3C532.27 347.3 532.73 346.49 533.2 345.9C533.63 345.35 534.07 343.7 534.5 343.7C534.97 343.7 535.43 344.3 535.9 344.6C536.37 344.9 536.83 345.5 537.3 345.5C537.9 345.5 538.5 345.27 539.1 345C539.7 344.73 540.3 342.7 540.9 342.7C541.37 342.7 541.83 343.56 542.3 344.1C542.73 344.6 543.17 345.25 543.6 345.9C544.07 346.6 544.53 347.53 545 348.2C545.47 348.87 545.93 349.25 546.4 350C546.83 350.7 547.27 352.1 547.7 352.8C548.17 353.55 548.63 354.2 549.1 354.6C549.57 355 550.03 355.26 550.5 355.5C550.8 355.66 551.1 355.68 551.4 355.9C551.83 356.22 552.27 359.6 552.7 359.6C553.17 359.6 553.63 359.6 554.1 359.6C554.57 359.6 555.03 352.74 555.5 352.3C555.8 352.02 556.1 351.8 556.4 351.8C556.83 351.8 557.27 354.33 557.7 355.5C558.17 356.76 558.63 359.1 559.1 359.1C559.57 359.1 560.03 359.1 560.5 359.1C560.93 359.1 561.37 355.85 561.8 354.6C562.43 352.78 563.07 350 563.7 350C564.13 350 564.57 350.77 565 351.4C565.47 352.08 565.93 354.6 566.4 354.6C567 354.6 567.6 354.6 568.2 354.6C568.8 354.6 569.4 353.51 570 352.8C570.63 352.05 571.27 350.41 571.9 350C572.63 349.52 573.37 349.1 574.1 349.1C574.73 349.1 575.37 349.76 576 350.5C576.43 351.01 576.87 353.33 577.3 353.7C577.9 354.22 578.5 354.06 579.1 354.6C579.57 355.02 580.03 357.93 580.5 359.1C580.8 359.85 581.1 361 581.4 361C582 361 582.6 360.5 583.2 360.5C583.83 360.5 584.47 360.7 585.1 361C585.53 361.21 585.97 363.2 586.4 363.2C586.87 363.2 587.33 363.2 587.8 363.2C588.27 363.2 588.73 360.92 589.2 359.6C589.63 358.37 590.07 355.97 590.5 355.5C590.97 355 591.43 354.6 591.9 354.6C592.5 354.6 593.1 354.71 593.7 355C594 355.14 594.3 360.27 594.6 361.4C594.9 362.53 595.2 363.7 595.5 363.7C595.97 363.7 596.43 362.09 596.9 361C597.37 359.91 597.83 358.32 598.3 356.9C598.73 355.58 599.17 354.7 599.6 352.8C599.73 352.22 599.87 350.66 600 350.4C600.47 349.48 600.93 349 601.4 349C601.9 349 602.4 350.99 602.9 351.9C603.37 352.75 603.83 353.45 604.3 354.3C604.8 355.21 605.3 357.2 605.8 357.2C606.27 357.2 606.73 352.3 607.2 352.3C607.7 352.3 608.2 352.3 608.7 352.3C609.17 352.3 609.63 356.06 610.1 357.2C610.6 358.42 611.1 360 611.6 360C612.07 360 612.53 357.5 613 356.7C613.5 355.85 614 354.7 614.5 354.7C614.97 354.7 615.43 357.6 615.9 357.6C616.37 357.6 616.83 354.96 617.3 354.7C617.7 354.47 618.1 354.3 618.5 354.3C618.77 354.3 619.03 357.68 619.3 359.1C619.6 360.7 619.9 363.4 620.2 363.4C620.7 363.4 621.2 363.15 621.7 362.9C622.33 362.59 622.97 361.81 623.6 361C624.07 360.4 624.53 359.12 625 358.6C625.4 358.16 625.8 357.6 626.2 357.6C626.63 357.6 627.07 359.3 627.5 360C627.97 360.75 628.43 362 628.9 362C629.37 362 629.83 361.18 630.3 361C630.97 360.75 631.63 360.5 632.3 360.5C632.77 360.5 633.23 361.3 633.7 362C634.2 362.75 634.7 364.29 635.2 365.8C635.6 367.01 636 370.2 636.4 370.2C636.87 370.2 637.33 370 637.8 369.7C638.2 369.45 638.6 367.66 639 366.8C639.5 365.72 640 364.44 640.5 363.9C641.13 363.21 641.77 362.5 642.4 362.5C642.87 362.5 643.33 362.71 643.8 362.9C644.3 363.1 644.8 363.9 645.3 363.9C645.93 363.9 646.57 363.9 647.2 363.9C647.7 363.9 648.2 362.52 648.7 361C649 360.09 649.3 355.93 649.6 355.7C650.03 355.37 650.47 355.2 650.9 355.2C651.27 355.2 651.63 358.45 652 359.1C652.4 359.81 652.8 360.5 653.2 360.5C653.6 360.5 654 360.29 654.4 360C654.9 359.64 655.4 355.45 655.9 355.2C656.53 354.88 657.17 354.7 657.8 354.7C658.2 354.7 658.6 356.89 659 358.1C659.4 359.31 659.8 362 660.2 362C660.7 362 661.2 361.34 661.7 361C662.17 360.68 662.63 360.33 663.1 360" stroke="#c83cc8"/>
<path d="M497.6 371.9C498.23 371.73 498.87 371.4 499.5 371.4C500.1 371.4 500.7 371.4 501.3 371.4C501.9 371.4 502.5 371.94 503.1 372.3C503.57 372.58 504.03 372.78 504.5 373.3C504.93 373.78 505.37 376.4 505.8 376.4C506.27 376.4 506.73 376.4 507.2 376.4C507.5 376.4 507.8 371.77 508.1 371.4C508.57 370.83 509.03 370.5 509.5 370.5C509.93 370.5 510.37 370.72 510.8 371C511.27 371.3 511.73 373.15 512.2 374.2C512.67 375.25 513.13 376.38 513.6 377.3C514.03 378.15 514.47 379.6 514.9 379.6C515.37 379.6 515.83 379 516.3 378.7C516.77 378.4 517.23 378.02 517.7 377.8C518.13 377.59 518.57 377.3 519 377.3C519.47 377.3 519.93 378.23 520.4 378.7C520.87 379.17 521.33 379.88 521.8 380.1C522.23 380.3 522.67 380.5 523.1 380.5C523.73 380.5 524.37 380.33 525 380.1C525.43 379.94 525.87 379.53 526.3 378.7C526.6 378.13 526.9 374.31 527.2 373.3C527.53 372.18 527.87 371 528.2 371C528.63 371 529.07 371 529.5 371C529.97 371 530.43 371.15 530.9 371.4C531.3 371.61 531.7 373.83 532.1 375.1C532.47 376.26 532.83 378.1 533.2 378.7C533.63 379.41 534.07 379.9 534.5 380.1C534.97 380.31 535.43 380.5 535.9 380.5C536.37 380.5 536.83 379.01 537.3 378.3C537.73 377.64 538.17 376.4 538.6 376.4C539.07 376.4 539.53 376.93 540 377.3C540.47 377.67 540.93 378.16 541.4 378.7C541.83 379.2 542.27 380.25 542.7 380.5C543.17 380.77 543.63 381 544.1 381C544.57 381 545.03 378.19 545.5 377.8C546.1 377.29 546.7 376.9 547.3 376.9C548.07 376.9 548.83 376.9 549.6 376.9C550.33 376.9 551.07 377.8 551.8 377.8C552.4 377.8 553 377.26 553.6 376.9C554.23 376.52 554.87 376.29 555.5 375.5C555.93 374.96 556.37 371.4 556.8 371.4C557.27 371.4 557.73 371.4 558.2 371.4C558.5 371.4 558.8 375.1 559.1 375.1C559.57 375.1 560.03 374.2 560.5 374.2C561.1 374.2 561.7 375.15 562.3 375.5C562.9 375.85 563.5 376.03 564.1 376.4C564.7 376.77 565.3 377.8 565.9 377.8C566.53 377.8 567.17 376.17 567.8 375.1C568.4 374.09 569 372.43 569.6 371.4C570 370.71 570.4 369.6 570.8 369.6C571.17 369.6 571.53 370.4 571.9 371.4C572.2 372.22 572.5 376.8 572.8 377.8C573.23 379.24 573.67 380.15 574.1 380.5C574.73 381.01 575.37 381.4 576 381.4C576.6 381.4 577.2 380.34 577.8 380.1C578.4 379.86 579 379.6 579.6 379.6C580.2 379.6 580.8 381.3 581.4 382.4C581.87 383.26 582.33 384.86 582.8 385.5C583.27 386.14 583.73 386.9 584.2 386.9C584.63 386.9 585.07 385.3 585.5 384.2C585.97 383.02 586.43 380.73 586.9 379.6C587.37 378.47 587.83 377.43 588.3 376.9C588.9 376.22 589.5 375.5 590.1 375.5C591.3 375.5 592.5 375.5 593.7 375.5C594.17 375.5 594.63 374.15 595.1 373.3C595.4 372.75 595.7 371.4 596 371.4C596.47 371.4 596.93 371.4 597.4 371.4C597.83 371.4 598.27 371.9 598.7 371.9C599.17 371.9 599.63 371.4 600.1 371.4C600.53 371.4 600.97 372.1 601.4 372.8C601.83 373.5 602.27 376.9 602.7 376.9C603.17 376.9 603.63 374.41 604.1 373.2C604.4 372.42 604.7 370.9 605 370.9C605.4 370.9 605.8 371.23 606.2 371.8C606.5 372.23 606.8 377.82 607.1 378.7C607.63 380.27 608.17 379.75 608.7 381.4C609 382.33 609.3 390.5 609.6 390.5C609.9 390.5 610.2 390.35 610.5 390.1C610.8 389.85 611.1 384.24 611.4 384.1C612 383.81 612.6 383.91 613.2 383.7C613.8 383.49 614.4 382.81 615 382.3C615.47 381.9 615.93 381.38 616.4 381C616.87 380.62 617.33 380.33 617.8 380C618.23 379.7 618.67 379.1 619.1 379.1C619.57 379.1 620.03 379.6 620.5 379.6C620.97 379.6 621.43 374.19 621.9 373.2C622.33 372.29 622.77 371.4 623.2 371.4C623.5 371.4 623.8 373.75 624.1 374.6C624.57 375.92 625.03 377.56 625.5 377.8C625.97 378.04 626.43 377.98 626.9 378.2C627.33 378.41 627.77 380 628.2 380C628.67 380 629.13 379.85 629.6 379.6C630.07 379.35 630.53 373.13 631 372.3C631.43 371.53 631.87 370.9 632.3 370.9C632.93 370.9 633.57 371.4 634.2 371.4C634.8 371.4 635.4 370.5 636 370.5C636.43 370.5 636.87 370.78 637.3 370.9C637.93 371.08 638.57 371.12 639.2 371.4C639.63 371.59 640.07 372.15 640.5 372.8C640.97 373.5 641.43 375.34 641.9 376.4C642.5 377.76 643.1 380 643.7 380C644.3 380 644.9 379.81 645.5 379.6C646.13 379.37 646.77 378.21 647.4 377.8C648 377.41 648.6 376.9 649.2 376.9C649.63 376.9 650.07 378.29 650.5 378.7C651.13 379.29 651.77 380 652.4 380C652.83 380 653.27 377.93 653.7 376.9" stroke="#34dcd6"/>
<path d="M479.1 401.6C479.6 403.63 480.1 407.7 480.6 407.7C480.93 407.7 481.27 406.44 481.6 405.7C482.13 404.51 482.67 402.92 483.2 401.6C483.7 400.36 484.2 398.52 484.7 398C485.2 397.48 485.7 397 486.2 397C486.73 397 487.27 400.5 487.8 400.5C488.13 400.5 488.47 400.06 488.8 399.5C489.13 398.94 489.47 394.81 489.8 394.4C490.3 393.78 490.8 393.4 491.3 393.4C491.83 393.4 492.37 393.91 492.9 394.4C493.4 394.86 493.9 396.15 494.4 397C494.9 397.85 495.4 398.87 495.9 399.5C496.43 400.17 496.97 401.1 497.5 401.1C498.17 401.1 498.83 400.68 499.5 400.5C500.17 400.32 500.83 400.3 501.5 400C502.03 399.76 502.57 398.06 503.1 397C503.43 396.34 503.77 395.06 504.1 394.9C504.77 394.57 505.43 394.4 506.1 394.4C506.63 394.4 507.17 394.8 507.7 395.4C508.03 395.78 508.37 398.78 508.7 399C509.2 399.32 509.7 399.5 510.2 399.5C510.73 399.5 511.27 398.84 511.8 398.5C512.3 398.18 512.8 397.79 513.3 397.5C513.97 397.12 514.63 396.5 515.3 396.5C515.83 396.5 516.37 396.9 516.9 397.5C517.23 397.88 517.57 400.58 517.9 401.1C518.23 401.62 518.57 402.1 518.9 402.1C519.3 402.1 519.7 400.49 520.1 399.5C520.57 398.34 521.03 396.9 521.5 395.4C521.93 394.01 522.37 391.7 522.8 390.8C523.13 390.11 523.47 389.3 523.8 389.3C524.13 389.3 524.47 391.36 524.8 391.9C525.23 392.6 525.67 393.4 526.1 393.4C526.6 393.4 527.1 392.9 527.6 392.9C528.1 392.9 528.6 393.24 529.1 393.4C529.63 393.57 530.17 393.73 530.7 393.9C531.2 394.06 531.7 394.11 532.2 394.4C532.7 394.69 533.2 396.35 533.7 397.5C534.17 398.57 534.63 399.82 535.1 401.1C535.5 402.2 535.9 403.4 536.3 404.6C536.63 405.6 536.97 407.7 537.3 407.7C537.7 407.7 538.1 407.36 538.5 406.7C538.8 406.21 539.1 394.61 539.4 394.4C539.9 394.05 540.4 393.9 540.9 393.9C541.4 393.9 541.9 396.5 542.4 396.5C543.13 396.5 543.87 394.84 544.6 392.9C544.93 392.02 545.27 388.36 545.6 387.8C545.93 387.24 546.27 386.8 546.6 386.8C546.87 386.8 547.13 388.52 547.4 390.3C547.67 392.08 547.93 399.87 548.2 401.6C548.53 403.76 548.87 405.7 549.2 405.7C549.7 405.7 550.2 405.01 550.7 404.6C551.4 404.02 552.1 403.19 552.8 402.6C553.47 402.04 554.13 401.79 554.8 401.1C555.33 400.55 555.87 399.39 556.4 398.5C556.9 397.66 557.4 396.18 557.9 395.9C558.4 395.62 558.9 395.4 559.4 395.4C559.73 395.4 560.07 397 560.4 397C560.93 397 561.47 394.2 562 393.9C562.5 393.62 563 393.4 563.5 393.4C563.9 393.4 564.3 397.16 564.7 398C565.17 398.98 565.63 400 566.1 400C566.6 400 567.1 398.26 567.6 397.5C568.1 396.74 568.6 395.83 569.1 395.4C569.63 394.94 570.17 394.4 570.7 394.4C571.2 394.4 571.7 397 572.2 397C572.7 397 573.2 395.01 573.7 394.4C574.23 393.75 574.77 392.9 575.3 392.9C575.8 392.9 576.3 394.97 576.8 395.9C577.3 396.83 577.8 397.89 578.3 398.5C578.83 399.15 579.37 400 579.9 400C580.4 400 580.9 397.06 581.4 396.5C581.9 395.94 582.4 395.4 582.9 395.4C583.43 395.4 583.97 398 584.5 398C585 398 585.5 391.67 586 391.3C586.4 391 586.8 390.8 587.2 390.8C587.53 390.8 587.87 393.78 588.2 395.4C588.57 397.19 588.93 401.1 589.3 401.1C589.73 401.1 590.17 398.46 590.6 397C590.93 395.88 591.27 393.4 591.6 393.4C592.1 393.4 592.6 393.96 593.1 394.4C593.63 394.87 594.17 395.4 594.7 396.5C595.03 397.19 595.37 399.24 595.7 400.5C596.03 401.76 596.37 402.82 596.7 404.1C597.03 405.38 597.37 408.2 597.7 408.2C598.07 408.2 598.43 406.45 598.8 404.6C599.13 402.91 599.47 393.9 599.8 393.9C600.33 393.9 600.87 394.35 601.4 395.1C601.7 395.52 602 399.6 602.3 399.6C602.73 399.6 603.17 394.49 603.6 394.2C604.07 393.89 604.53 393.7 605 393.7C605.47 393.7 605.93 395.45 606.4 396.4C606.83 397.28 607.27 398.63 607.7 399.2C608.17 399.81 608.63 400.5 609.1 400.5C609.57 400.5 610.03 397.88 610.5 396.9C610.93 395.99 611.37 394.6 611.8 394.6C612.27 394.6 612.73 396.8 613.2 398.7C613.5 399.92 613.8 404.2 614.1 404.2C614.4 404.2 614.7 403.24 615 402.4C615.47 401.09 615.93 396.98 616.4 395.1C616.87 393.22 617.33 391.03 617.8 390.5C618.23 390.01 618.67 389.6 619.1 389.6C619.57 389.6 620.03 392.49 620.5 393.3C620.97 394.11 621.43 394.16 621.9 395.1C622.33 395.97 622.77 400.13 623.2 401C623.67 401.94 624.13 401.82 624.6 402.8C624.9 403.43 625.2 406.9 625.5 406.9C625.97 406.9 626.43 403.81 626.9 403.3C627.33 402.83 627.77 402.4 628.2 402.4C628.67 402.4 629.13 404.96 629.6 406C629.9 406.67 630.2 407.8 630.5 407.8C630.8 407.8 631.1 404.29 631.4 402.4C631.7 400.51 632 396.77 632.3 396.4C632.77 395.82 633.23 395.5 633.7 395.5C634.17 395.5 634.63 396.94 635.1 397.8C635.53 398.6 635.97 399.7 636.4 400.5C636.87 401.36 637.33 401.78 637.8 402.8C638.27 403.82 638.73 407.4 639.2 407.4C639.63 407.4 640.07 406.65 640.5 406C640.97 405.3 641.43 403.45 641.9 402.4C642.37 401.35 642.83 400.22 643.3 399.6C643.73 399.02 644.17 398.73 644.6 398.3" stroke="#4840bc"/>
<path d="M457.6 412.6C458.13 412.53 458.67 412.4 459.2 412.4C459.7 412.4 460.2 413.32 460.7 413.9C461.2 414.48 461.7 415.34 462.2 416C462.73 416.7 463.27 417.17 463.8 418C464.3 418.78 464.8 420.43 465.3 421.1C465.8 421.77 466.3 422.6 466.8 422.6C467.13 422.6 467.47 420.18 467.8 418.5C468.07 417.16 468.33 413.4 468.6 413.4C468.93 413.4 469.27 413.4 469.6 413.4C469.87 413.4 470.13 416.07 470.4 418.5C470.57 420.02 470.73 425.2 470.9 425.7C471.23 426.7 471.57 427.2 471.9 427.2C472.23 427.2 472.57 425.36 472.9 424.6C473.27 423.77 473.63 422.54 474 422.4C474.5 422.21 475 422.24 475.5 422.1C476.17 421.91 476.83 421.54 477.5 421.1C478.2 420.63 478.9 419.7 479.6 419C480.27 418.33 480.93 417.74 481.6 417C482.3 416.23 483 415.35 483.7 414.4C484.37 413.49 485.03 411.79 485.7 411.4C486.23 411.09 486.77 410.8 487.3 410.8C487.8 410.8 488.3 413.4 488.8 413.4C489.3 413.4 489.8 411.9 490.3 411.9C490.83 411.9 491.37 412.34 491.9 412.9C492.4 413.42 492.9 417.5 493.4 417.5C493.9 417.5 494.4 416.62 494.9 416C495.43 415.34 495.97 414.7 496.5 413.4C497 412.18 497.5 407.17 498 406.2C498.4 405.42 498.8 404.7 499.2 404.7C499.63 404.7 500.07 406.48 500.5 407.3C500.87 408 501.23 408.65 501.6 409.3C502.1 410.19 502.6 411.62 503.1 411.9C503.6 412.18 504.1 412.16 504.6 412.4C505.13 412.66 505.67 413.21 506.2 413.9C506.7 414.55 507.2 415.9 507.7 417C508.2 418.1 508.7 419.66 509.2 420.5C509.73 421.4 510.27 422.6 510.8 422.6C511.3 422.6 511.8 422.43 512.3 422.1C512.63 421.88 512.97 418.85 513.3 417.5C513.63 416.15 513.97 414.65 514.3 413.9C514.83 412.7 515.37 411.4 515.9 411.4C516.57 411.4 517.23 412.4 517.9 412.4C518.43 412.4 518.97 411.94 519.5 411.4C520.03 410.86 520.57 407.3 521.1 407.3C521.5 407.3 521.9 407.5 522.3 407.8C522.73 408.12 523.17 411.02 523.6 412.4C524.13 414.1 524.67 416.43 525.2 417C525.7 417.54 526.2 418 526.7 418C527.2 418 527.7 413.65 528.2 412.9C528.53 412.4 528.87 411.9 529.2 411.9C529.57 411.9 529.93 417.48 530.3 419.5C530.63 421.34 530.97 424.1 531.3 424.1C531.8 424.1 532.3 423.91 532.8 423.6C533.3 423.29 533.8 418.49 534.3 417C534.83 415.41 535.37 414.39 535.9 413.4C536.57 412.17 537.23 411.29 537.9 410.3C538.6 409.26 539.3 408.64 540 407.3C540.5 406.35 541 403.2 541.5 403.2C542 403.2 542.5 404.88 543 406.2C543.37 407.17 543.73 409.54 544.1 410.3C544.6 411.34 545.1 412.4 545.6 412.4C546.27 412.4 546.93 409.8 547.6 409.8C548.13 409.8 548.67 410.02 549.2 410.3C549.7 410.57 550.2 412.5 550.7 412.9C551.37 413.43 552.03 413.68 552.7 413.9C553.4 414.13 554.1 414.4 554.8 414.4C555.3 414.4 555.8 413.9 556.3 413.9C556.83 413.9 557.37 415.9 557.9 415.9C558.57 415.9 559.23 415.9 559.9 415.9C560.4 415.9 560.9 416.54 561.4 417C561.93 417.49 562.47 418.12 563 419C563.5 419.82 564 421.89 564.5 422.6C565 423.31 565.5 424.1 566 424.1C566.37 424.1 566.73 422.1 567.1 421.1C567.6 419.73 568.1 417.77 568.6 417C569.1 416.23 569.6 415.4 570.1 415.4C570.6 415.4 571.1 417.39 571.6 418C572.13 418.65 572.67 419.5 573.2 419.5C573.53 419.5 573.87 417.03 574.2 415.4C574.53 413.77 574.87 409.51 575.2 409.3C575.73 408.96 576.27 408.8 576.8 408.8C577.3 408.8 577.8 411.9 578.3 411.9C578.8 411.9 579.3 410.53 579.8 410.3C580.37 410.04 580.93 409.8 581.5 409.8C581.93 409.8 582.37 412.88 582.8 413.8C583.23 414.72 583.67 415.9 584.1 415.9C584.53 415.9 584.97 412.81 585.4 412.4C585.87 411.96 586.33 411.6 586.8 411.6C587.07 411.6 587.33 416.2 587.6 418.1C587.9 420.24 588.2 423.57 588.5 423.8C588.93 424.13 589.37 424.3 589.8 424.3C590.23 424.3 590.67 423.23 591.1 422.1C591.57 420.88 592.03 416.62 592.5 413.8C592.77 412.19 593.03 408.9 593.3 408.9C593.9 408.9 594.5 409.25 595.1 409.4C595.67 409.54 596.23 409.6 596.8 409.8C597.4 410.01 598 410.25 598.6 411.1C598.97 411.62 599.33 418.16 599.7 419.9C600 421.33 600.3 423 600.6 423C600.93 423 601.27 422.79 601.6 422.5C602.07 422.09 602.53 417.13 603 415.5C603.43 413.99 603.87 413.17 604.3 412C604.73 410.83 605.17 408.5 605.6 408.5C608.07 408.5 610.53 408.5 613 408.5C613.43 408.5 613.87 409.34 614.3 410.3C614.6 410.97 614.9 414.6 615.2 414.6C615.63 414.6 616.07 413.7 616.5 412.9C616.97 412.04 617.43 408.5 617.9 408.5C618.17 408.5 618.43 410.11 618.7 411.1C619.1 412.58 619.5 416.4 619.9 416.4C620.3 416.4 620.7 416 621.1 415.5C621.47 415.04 621.83 411.77 622.2 411.6C622.93 411.25 623.67 411.1 624.4 411.1C625.27 411.1 626.13 411.31 627 411.6C627.6 411.8 628.2 412.17 628.8 413.3C629.1 413.87 629.4 420.61 629.7 421.6C630 422.59 630.3 423.4 630.6 423.4C630.93 423.4 631.27 420.15 631.6 419C631.97 417.74 632.33 416.63 632.7 415.9C633.17 414.98 633.63 414.5 634.1 413.8" stroke="#40dc40"/>
<path d="M434.1 436.4C434.87 436.57 435.63 436.72 436.4 436.9C437.2 437.09 438 437.5 438.8 437.5C439.57 437.5 440.33 436.85 441.1 435.8C441.5 435.25 441.9 431.51 442.3 430.5C442.8 429.23 443.3 427.9 443.8 427.9C444.17 427.9 444.53 429.35 444.9 430.5C445.2 431.44 445.5 434.28 445.8 434.6C446.57 435.41 447.33 435.28 448.1 435.8C448.7 436.21 449.3 436.9 449.9 437.5C450.47 438.07 451.03 439.3 451.6 439.3C452 439.3 452.4 437.19 452.8 435.2C453.17 433.37 453.53 425.3 453.9 425.3C454.3 425.3 454.7 425.75 455.1 426.4C455.5 427.05 455.9 434.32 456.3 434.6C456.87 435 457.43 435.03 458 435.2C458.8 435.44 459.6 435.54 460.4 435.8C461.17 436.05 461.93 436.14 462.7 436.9C463.1 437.3 463.5 445.28 463.9 446.3C464.27 447.24 464.63 448 465 448C465.4 448 465.8 438.32 466.2 438.1C466.97 437.67 467.73 437.7 468.5 437.5C469.3 437.3 470.1 437.12 470.9 436.9C471.47 436.75 472.03 436.4 472.6 436.4C473 436.4 473.4 438.81 473.8 440.4C474.2 441.99 474.6 446.3 475 446.3C475.37 446.3 475.73 445.73 476.1 445.1C476.5 444.41 476.9 439.9 477.3 439.9C477.7 439.9 478.1 440.09 478.5 440.4C478.87 440.68 479.23 445.36 479.6 445.7C480 446.07 480.4 446.3 480.8 446.3C481.3 446.3 481.8 442.67 482.3 441.6C482.77 440.6 483.23 440.31 483.7 439.3C484.3 438 484.9 433.82 485.5 433.4C486 433.05 486.5 432.8 487 432.8C487.47 432.8 487.93 436.15 488.4 436.4C488.97 436.71 489.53 436.9 490.1 436.9C490.7 436.9 491.3 435.79 491.9 435.2C492.67 434.44 493.43 432.8 494.2 432.8C494.8 432.8 495.4 434.65 496 435.2C496.57 435.72 497.13 436.12 497.7 436.4C498.5 436.8 499.3 437.3 500.1 437.3C500.87 437.3 501.63 436.72 502.4 436.4C503.27 436.03 504.13 436.05 505 435.2C505.4 434.81 505.8 425.79 506.2 425.3C506.67 424.73 507.13 424.4 507.6 424.4C508.1 424.4 508.6 425.78 509.1 427C509.5 427.98 509.9 429.43 510.3 431.7C510.67 433.78 511.03 442.35 511.4 442.8C512 443.54 512.6 443.9 513.2 443.9C513.57 443.9 513.93 438.56 514.3 438.1C514.9 437.34 515.5 437.14 516.1 436.9C517.07 436.51 518.03 436.26 519 436.1C519.8 435.96 520.6 435.8 521.4 435.8C522.17 435.8 522.93 436.08 523.7 436.4C524.47 436.72 525.23 438.7 526 438.7C526.6 438.7 527.2 438.02 527.8 437.5C528.57 436.84 529.33 434.6 530.1 434.6C530.7 434.6 531.3 434.79 531.9 435.2C532.27 435.45 532.63 442.96 533 443.4C533.6 444.13 534.2 444.5 534.8 444.5C535.57 444.5 536.33 444.43 537.1 444.3C537.7 444.2 538.3 442.2 538.9 442.2C539.27 442.2 539.63 442.49 540 442.8C540.4 443.14 540.8 444.96 541.2 445.1C541.97 445.37 542.73 445.5 543.5 445.5C544.1 445.5 544.7 445.37 545.3 445.1C545.7 444.92 546.1 438.73 546.5 437.5C546.77 436.68 547.03 435.8 547.3 435.8C547.67 435.8 548.03 436.93 548.4 438.1C548.73 439.16 549.07 444.5 549.4 444.5C549.87 444.5 550.33 444.3 550.8 443.9C551.1 443.64 551.4 437.8 551.7 437.5C552.5 436.71 553.3 436.61 554.1 436.4C555.27 436.1 556.43 436.04 557.6 435.8C558.37 435.64 559.13 435.2 559.9 435.2C560.37 435.2 560.83 436.29 561.3 437.5C561.7 438.54 562.1 444.5 562.5 444.5C563 444.5 563.5 444.3 564 443.9C564.37 443.61 564.73 436.6 565.1 436.4C565.9 435.96 566.7 436.15 567.5 435.8C568.07 435.55 568.63 434.33 569.2 433.4C569.8 432.42 570.4 429.9 571 429.9C571.4 429.9 571.8 430.59 572.2 431.7C572.47 432.44 572.73 439.05 573 440.4C573.37 442.26 573.73 443.9 574.1 443.9C574.63 443.9 575.17 443.49 575.7 442.8C576.07 442.33 576.43 437.06 576.8 436.4C577.4 435.31 578 434.6 578.6 434.6C579.37 434.6 580.13 434.93 580.9 435.2C581.67 435.47 582.43 436.04 583.2 436.4C583.67 436.62 584.13 437 584.6 437C585.33 437 586.07 436.5 586.8 436.5C587.67 436.5 588.53 436.93 589.4 437.4C589.97 437.71 590.53 438.15 591.1 439.2C591.4 439.76 591.7 443.07 592 443.5C592.37 444.02 592.73 444.4 593.1 444.4C593.47 444.4 593.83 440.13 594.2 439.2C594.63 438.11 595.07 437 595.5 437C596.1 437 596.7 437.15 597.3 437.4C597.73 437.58 598.17 438.48 598.6 439.6C598.9 440.38 599.2 443.79 599.5 444C599.87 444.26 600.23 444.4 600.6 444.4C600.93 444.4 601.27 439.6 601.6 439.2C602.07 438.64 602.53 438.3 603 438.3C603.43 438.3 603.87 440.45 604.3 441.8C604.73 443.15 605.17 445.92 605.6 446.6C606.03 447.28 606.47 447.9 606.9 447.9C607.33 447.9 607.77 447.77 608.2 447.5C608.5 447.31 608.8 440.79 609.1 439.2C609.47 437.26 609.83 435.2 610.2 435.2C610.57 435.2 610.93 435.56 611.3 436.1C611.63 436.59 611.97 441.73 612.3 442.7C612.7 443.87 613.1 444.08 613.5 444.9C613.93 445.78 614.37 447.3 614.8 447.9C615.23 448.5 615.67 449.2 616.1 449.2C616.53 449.2 616.97 448.05 617.4 447C617.7 446.28 618 444.64 618.3 443.5C618.73 441.86 619.17 439.71 619.6 438.7C620.03 437.69 620.47 436.5 620.9 436.5C621.27 436.5 621.63 437.24 622 438.3C622.23 438.98 622.47 442.37 622.7 444.4" stroke="#d8404e"/>
<path d="M406.4 478.9C407.07 479.03 407.73 479.3 408.4 479.3C408.8 479.3 409.2 478.97 409.6 478.4C409.87 478.02 410.13 473.7 410.4 473.1C410.7 472.43 411 471.9 411.3 471.9C411.63 471.9 411.97 472.61 412.3 473.7C412.57 474.57 412.83 480.28 413.1 484.2C413.3 487.14 413.5 493.65 413.7 494.1C414.07 494.92 414.43 495.3 414.8 495.3C415.13 495.3 415.47 490.24 415.8 488.9C416.07 487.83 416.33 486.74 416.6 486.5C417 486.14 417.4 486.25 417.8 485.9C418.17 485.58 418.53 482.67 418.9 482.4C419.3 482.1 419.7 481.9 420.1 481.9C420.7 481.9 421.3 483 421.9 483C422.47 483 423.03 483 423.6 483C424.2 483 424.8 482.4 425.4 482.4C425.97 482.4 426.53 483 427.1 483C427.7 483 428.3 483 428.9 483C429.27 483 429.63 479 430 478.4C430.4 477.75 430.8 477.2 431.2 477.2C431.77 477.2 432.33 478.17 432.9 478.4C433.5 478.64 434.1 478.64 434.7 478.9C435.3 479.16 435.9 480.7 436.5 480.7C437.07 480.7 437.63 479.83 438.2 479.5C438.6 479.27 439 478.9 439.4 478.9C439.97 478.9 440.53 479.71 441.1 480.1C441.7 480.51 442.3 480.96 442.9 481.3C443.67 481.73 444.43 482.4 445.2 482.4C445.8 482.4 446.4 480.8 447 480.1C447.37 479.67 447.73 478.9 448.1 478.9C448.5 478.9 448.9 479.57 449.3 480.1C449.7 480.63 450.1 481.88 450.5 482.4C451.07 483.13 451.63 483.31 452.2 484C452.6 484.49 453 485.89 453.4 486C454.17 486.2 454.93 486.3 455.7 486.3C456.3 486.3 456.9 486.2 457.5 486C457.87 485.88 458.23 483 458.6 483C459 483 459.4 483 459.8 483C460.2 483 460.6 485.57 461 486C461.57 486.6 462.13 487.1 462.7 487.1C463.5 487.1 464.3 486.8 465.1 486.8C465.47 486.8 465.83 487.97 466.2 488.9C466.6 489.91 467 493.02 467.4 493.5C468 494.22 468.6 494.42 469.2 494.7C469.77 494.96 470.33 495.3 470.9 495.3C471.3 495.3 471.7 493.96 472.1 493C472.47 492.12 472.83 490.08 473.2 489.5C473.8 488.55 474.4 488.2 475 487.7C475.57 487.23 476.13 486.5 476.7 486.5C477.23 486.5 477.77 487.83 478.3 488.5C478.8 489.13 479.3 489.54 479.8 490.4C480.37 491.38 480.93 494.91 481.5 495.1C482.27 495.36 483.03 495.5 483.8 495.5C484.4 495.5 485 495.17 485.6 494.5C486 494.06 486.4 484.88 486.8 484C487.17 483.19 487.53 482.6 487.9 482.6C488.4 482.6 488.9 484.01 489.4 484.6C489.97 485.27 490.53 485.27 491.1 486.4C491.4 487 491.7 491.95 492 492.8C492.6 494.49 493.2 495.42 493.8 495.7C494.57 496.05 495.33 496.3 496.1 496.3C496.87 496.3 497.63 495.62 498.4 495.1C499 494.69 499.6 494.48 500.2 493.4C500.5 492.86 500.8 488.05 501.1 487.5C501.57 486.64 502.03 486.24 502.5 486.1C503.1 485.92 503.7 485.8 504.3 485.8C504.67 485.8 505.03 486.26 505.4 486.9C505.8 487.6 506.2 494.99 506.6 495.7C507.2 496.76 507.8 496.58 508.4 497.4C508.87 498.03 509.33 500.24 509.8 500.6C510.3 500.99 510.8 501.3 511.3 501.3C511.87 501.3 512.43 500.87 513 500.4C513.6 499.9 514.2 497.26 514.8 496.9C515.37 496.56 515.93 496.47 516.5 496.3C517.3 496.06 518.1 495.7 518.9 495.7C519.37 495.7 519.83 496.76 520.3 497.4C520.8 498.09 521.3 499.09 521.8 499.8C522.57 500.89 523.33 501.51 524.1 502.7C524.5 503.32 524.9 504.16 525.3 505C525.8 506.05 526.3 508.5 526.8 508.5C527.27 508.5 527.73 508.5 528.2 508.5C528.6 508.5 529 502.47 529.4 502.1C529.8 501.73 530.2 501.5 530.6 501.5C530.97 501.5 531.33 503.63 531.7 505C532.03 506.25 532.37 509.5 532.7 509.5C533.17 509.5 533.63 509.38 534.1 509.1C534.4 508.92 534.7 502.37 535 501.5C535.47 500.15 535.93 499.59 536.4 499.2C537.17 498.57 537.93 498 538.7 498C539.5 498 540.3 498.24 541.1 498.6C541.57 498.81 542.03 499.31 542.5 500.4C542.8 501.1 543.1 506.85 543.4 507.4C544 508.51 544.6 509.1 545.2 509.1C546.17 509.1 547.13 509.1 548.1 509.1C548.87 509.1 549.63 507.4 550.4 507.4C551.17 507.4 551.93 507.91 552.7 508C553.63 508.11 554.57 508.2 555.5 508.2C555.93 508.2 556.37 506.92 556.8 506.3C557.23 505.68 557.67 504.5 558.1 504.5C558.7 504.5 559.3 504.67 559.9 505C560.2 505.17 560.5 507.31 560.8 507.6C561.37 508.15 561.93 508.34 562.5 508.5C563.23 508.7 563.97 508.9 564.7 508.9C565 508.9 565.3 507.42 565.6 506.3C565.9 505.18 566.2 502.27 566.5 501.5C566.93 500.39 567.37 499.4 567.8 499.4C568.23 499.4 568.67 500.3 569.1 501C569.53 501.7 569.97 504.1 570.4 504.1C570.73 504.1 571.07 503.55 571.4 502.8C571.7 502.13 572 496.79 572.3 496.2C572.7 495.42 573.1 494.9 573.5 494.9C574.5 494.9 575.5 494.95 576.5 495.1C576.8 495.15 577.1 495.87 577.4 496.6C577.7 497.33 578 500.45 578.3 500.6C578.87 500.88 579.43 501 580 501C580.73 501 581.47 500.95 582.2 500.8C582.5 500.74 582.8 499.23 583.1 498.4C583.4 497.57 583.7 495.8 584 495.8C584.43 495.8 584.87 495.93 585.3 496.2C585.6 496.39 585.9 500.05 586.2 501.9C586.47 503.54 586.73 506.22 587 506.7C587.43 507.49 587.87 507.58 588.3 508C588.77 508.45 589.23 509.3 589.7 509.3C590.13 509.3 590.57 509.3 591 509.3C591.43 509.3 591.87 508.75 592.3 508.5C592.87 508.18 593.43 508.03 594 507.6C594.47 507.25 594.93 505.8 595.4 505.8C595.83 505.8 596.27 506.69 596.7 507.2C597.13 507.71 597.57 508.48 598 508.9C598.57 509.45 599.13 510.2 599.7 510.2C600.3 510.2 600.9 510.2 601.5 510.2C601.93 510.2 602.37 508.71 602.8 508.5C603.4 508.22 604 508 604.6 508C605.3 508 606 508.9 606.7 508.9C607.3 508.9 607.9 508.03 608.5 507.6" stroke="#3a3a3a"/>
</g>

<g font-size="11.8">
<text x="45.3" y="233.5" text-anchor="end">99.5</text>
<text x="45.3" y="216.03" text-anchor="end">100.0</text>
<text x="45.3" y="198.57" text-anchor="end">100.5</text>
<text x="45.3" y="163.63" text-anchor="end">119.5</text>
<text x="45.3" y="146.17" text-anchor="end">120.0</text>
<text x="45.3" y="128.7" text-anchor="end">120.5</text>
<text x="49.5" y="244.3" text-anchor="middle">0</text>
<text x="84.42" y="244.3" text-anchor="middle">60</text>
<text x="119.33" y="244.3" text-anchor="middle">120</text>
<text x="154.25" y="244.3" text-anchor="middle">180</text>
<text x="189.17" y="244.3" text-anchor="middle">240</text>
<text x="224.08" y="244.3" text-anchor="middle">300</text>
<text x="259" y="244.3" text-anchor="middle">360</text>
<text x="277.53" y="216.03" text-anchor="middle" font-size="12.3" transform="rotate(45 277.53 212.03)">C1</text>
<text x="291.05" y="184.46" text-anchor="middle" font-size="12.3" transform="rotate(45 291.05 180.46)">C2</text>
<text x="302.85" y="156.9" text-anchor="middle" font-size="12.3" transform="rotate(45 302.85 152.9)">C3</text>
<text x="313.24" y="132.63" text-anchor="middle" font-size="12.3" transform="rotate(45 313.24 128.63)">C4</text>
<text x="322.47" y="111.1" text-anchor="middle" font-size="12.3" transform="rotate(45 322.47 107.1)">C5</text>
<text x="330.7" y="91.87" text-anchor="middle" font-size="12.3" transform="rotate(45 330.7 87.87)">C6</text>
<text x="154" y="264.5" text-anchor="middle" font-size="12.9">times (s)</text>
<text x="155.9" y="289.6" text-anchor="middle" font-size="18">(a)</text>
<text id="ta" transform="translate(11 177) rotate(-90)" font-size="12" text-anchor="middle"><tspan font-style="italic" font-size="13.5">T</tspan><tspan font-size="8.5" dy="2.5">oil</tspan><tspan dy="-2.5"> (°C)</tspan></text>
<text x="387" y="233" text-anchor="end">29.6</text>
<text x="387" y="197.57" text-anchor="end">29.8</text>
<text x="387" y="162.13" text-anchor="end">30.0</text>
<text x="387" y="126.7" text-anchor="end">30.2</text>
<text x="391.3" y="243.8" text-anchor="middle">0</text>
<text x="426.42" y="243.8" text-anchor="middle">60</text>
<text x="461.53" y="243.8" text-anchor="middle">120</text>
<text x="496.65" y="243.8" text-anchor="middle">180</text>
<text x="531.77" y="243.8" text-anchor="middle">240</text>
<text x="566.88" y="243.8" text-anchor="middle">300</text>
<text x="602" y="243.8" text-anchor="middle">360</text>
<text x="620.61" y="215.33" text-anchor="middle" font-size="12.3" transform="rotate(45 620.61 211.33)">C1</text>
<text x="634.31" y="183.36" text-anchor="middle" font-size="12.3" transform="rotate(45 634.31 179.36)">C2</text>
<text x="646.29" y="155.4" text-anchor="middle" font-size="12.3" transform="rotate(45 646.29 151.4)">C3</text>
<text x="656.85" y="130.74" text-anchor="middle" font-size="12.3" transform="rotate(45 656.85 126.74)">C4</text>
<text x="666.23" y="108.83" text-anchor="middle" font-size="12.3" transform="rotate(45 666.23 104.83)">C5</text>
<text x="674.63" y="89.24" text-anchor="middle" font-size="12.3" transform="rotate(45 674.63 85.24)">C6</text>
<text x="496.8" y="264.2" text-anchor="middle" font-size="12.9">times (s)</text>
<text x="497.2" y="288.9" text-anchor="middle" font-size="18">(b)</text>
<text id="tb" transform="translate(358.6 174.5) rotate(-90)" font-size="13" text-anchor="middle"><tspan font-style="italic" font-size="14">Q</tspan><tspan font-size="9" dy="2.5">oil</tspan><tspan dy="-2.5"> (m</tspan><tspan font-size="8.5" dy="-5.3">3</tspan><tspan dy="5.3">/min)</tspan></text>
<text x="39.8" y="542" text-anchor="end">9.4</text>
<text x="39.8" y="520.6" text-anchor="end">9.6</text>
<text x="39.8" y="499.2" text-anchor="end">9.8</text>
<text x="39.8" y="477.8" text-anchor="end">10.0</text>
<text x="39.8" y="456.4" text-anchor="end">10.2</text>
<text x="39.8" y="435" text-anchor="end">10.4</text>
<text x="44" y="552.8" text-anchor="middle">0</text>
<text x="79.47" y="552.8" text-anchor="middle">60</text>
<text x="114.93" y="552.8" text-anchor="middle">120</text>
<text x="150.4" y="552.8" text-anchor="middle">180</text>
<text x="185.87" y="552.8" text-anchor="middle">240</text>
<text x="221.33" y="552.8" text-anchor="middle">300</text>
<text x="256.8" y="552.8" text-anchor="middle">360</text>
<text x="275.47" y="524.2" text-anchor="middle" font-size="12.3" transform="rotate(45 275.47 520.2)">C1</text>
<text x="289.23" y="492.08" text-anchor="middle" font-size="12.3" transform="rotate(45 289.23 488.08)">C2</text>
<text x="301.22" y="464.08" text-anchor="middle" font-size="12.3" transform="rotate(45 301.22 460.08)">C3</text>
<text x="311.77" y="439.46" text-anchor="middle" font-size="12.3" transform="rotate(45 311.77 435.46)">C4</text>
<text x="321.12" y="417.64" text-anchor="middle" font-size="12.3" transform="rotate(45 321.12 413.64)">C5</text>
<text x="329.46" y="398.17" text-anchor="middle" font-size="12.3" transform="rotate(45 329.46 394.17)">C6</text>
<text x="150.8" y="573.8" text-anchor="middle" font-size="12.9">times (s)</text>
<text x="152" y="597.9" text-anchor="middle" font-size="18">(c)</text>
<text id="tc" transform="translate(11.2 483.6) rotate(-90)" font-size="12.3" text-anchor="middle"><tspan font-style="italic" font-size="13.5">T</tspan><tspan font-size="9" dy="2.5">water</tspan><tspan dy="-2.5"> (°C)</tspan></text>
<text x="386.5" y="542.1" text-anchor="end">13.1</text>
<text x="386.5" y="506.43" text-anchor="end">13.2</text>
<text x="386.5" y="470.77" text-anchor="end">13.3</text>
<text x="386.5" y="435.1" text-anchor="end">13.4</text>
<text x="390.8" y="552.9" text-anchor="middle">0</text>
<text x="426.15" y="552.9" text-anchor="middle">60</text>
<text x="461.5" y="552.9" text-anchor="middle">120</text>
<text x="496.85" y="552.9" text-anchor="middle">180</text>
<text x="532.2" y="552.9" text-anchor="middle">240</text>
<text x="567.55" y="552.9" text-anchor="middle">300</text>
<text x="602.9" y="552.9" text-anchor="middle">360</text>
<text x="621.49" y="524.12" text-anchor="middle" font-size="12.3" transform="rotate(45 621.49 520.12)">C1</text>
<text x="635.07" y="491.74" text-anchor="middle" font-size="12.3" transform="rotate(45 635.07 487.74)">C2</text>
<text x="646.9" y="463.57" text-anchor="middle" font-size="12.3" transform="rotate(45 646.9 459.57)">C3</text>
<text x="657.27" y="438.85" text-anchor="middle" font-size="12.3" transform="rotate(45 657.27 434.85)">C4</text>
<text x="666.45" y="416.97" text-anchor="middle" font-size="12.3" transform="rotate(45 666.45 412.97)">C5</text>
<text x="674.63" y="397.47" text-anchor="middle" font-size="12.3" transform="rotate(45 674.63 393.47)">C6</text>
<text x="496.8" y="573.8" text-anchor="middle" font-size="12.9">times (s)</text>
<text x="498.4" y="597.9" text-anchor="middle" font-size="18">(d)</text>
<text id="td" transform="translate(358.6 483.6) rotate(-90)" font-size="13" text-anchor="middle"><tspan font-style="italic" font-size="14">Q</tspan><tspan font-size="9" dy="2.5">water</tspan><tspan dy="-2.5"> (m</tspan><tspan font-size="8.5" dy="-5.3">3</tspan><tspan dy="5.3">/min)</tspan></text>
</g>
</g>
</svg>
</body></html>
